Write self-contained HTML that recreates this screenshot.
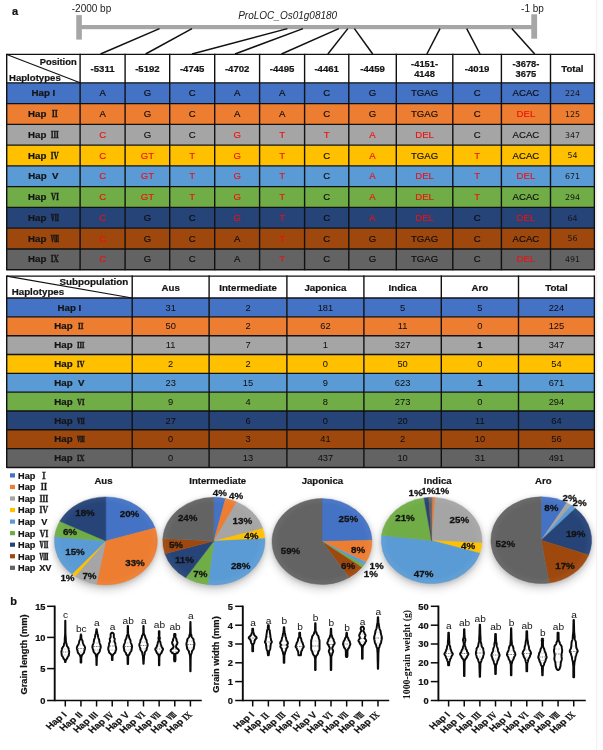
<!DOCTYPE html>
<html lang="en">
<head>
<meta charset="utf-8">
<title>ProLOC_Os01g08180 haplotype analysis</title>
<style>
html,body{margin:0;padding:0;background:#fff;}
body{width:603px;height:750px;overflow:hidden;font-family:"Liberation Sans", "Noto Serif CJK SC", "IPAGothic", sans-serif;}
svg{display:block;will-change:transform;}
text[font-weight=bold]{stroke:#151515;stroke-width:0.22px;}
.rn{font-family:"Noto Serif CJK SC","IPAGothic",serif;stroke:#151515;stroke-width:0.3px;font-size:0.9em;}
</style>
</head>
<body>
<svg width="603" height="750" viewBox="0 0 603 750" font-family='"Liberation Sans", "Noto Serif CJK SC", "IPAGothic", sans-serif'>
<g id="gene">
<text x="15.1" y="14.6" font-size="11" font-weight="bold" text-anchor="middle" fill="#111">a</text>
<text x="91.5" y="11.6" font-size="10" font-weight="normal" text-anchor="middle" fill="#222">-2000 bp</text>
<text x="532.5" y="11.6" font-size="10" font-weight="normal" text-anchor="middle" fill="#222">-1 bp</text>
<text x="287.7" y="19" font-size="10" font-weight="normal" text-anchor="middle" fill="#222" font-style="italic">ProLOC_Os01g08180</text>
<rect x="76.25" y="15.1" width="5.6" height="24.5" fill="#a6a6a6"/>
<rect x="531.3" y="14.3" width="5.8" height="24.4" fill="#a6a6a6"/>
<rect x="79" y="25" width="455" height="4.2" fill="#a6a6a6"/>
<line x1="159.5" y1="28.6" x2="100.5" y2="54" stroke="#111" stroke-width="1.5" stroke-linecap="butt"/>
<line x1="192" y1="28.6" x2="145.6" y2="54" stroke="#111" stroke-width="1.5" stroke-linecap="butt"/>
<line x1="287.4" y1="28.6" x2="192" y2="54" stroke="#111" stroke-width="1.5" stroke-linecap="butt"/>
<line x1="303" y1="28.6" x2="235" y2="54" stroke="#111" stroke-width="1.5" stroke-linecap="butt"/>
<line x1="338.8" y1="28.6" x2="281.5" y2="54" stroke="#111" stroke-width="1.5" stroke-linecap="butt"/>
<line x1="347.8" y1="28.6" x2="327.9" y2="54" stroke="#111" stroke-width="1.5" stroke-linecap="butt"/>
<line x1="354.4" y1="28.6" x2="372.7" y2="54" stroke="#111" stroke-width="1.5" stroke-linecap="butt"/>
<line x1="440" y1="28.6" x2="426.9" y2="54" stroke="#111" stroke-width="1.5" stroke-linecap="butt"/>
<line x1="466.7" y1="28.6" x2="480" y2="54" stroke="#111" stroke-width="1.5" stroke-linecap="butt"/>
<line x1="511.8" y1="28.6" x2="534.7" y2="54" stroke="#111" stroke-width="1.5" stroke-linecap="butt"/>
</g>
<g id="table1">
<rect x="6.7" y="54.4" width="587.7" height="28.45" fill="#ffffff"/>
<rect x="6.7" y="82.85" width="587.7" height="20.76" fill="#4472C4"/>
<rect x="6.7" y="103.61" width="587.7" height="20.76" fill="#ED7D31"/>
<rect x="6.7" y="124.37" width="587.7" height="20.76" fill="#A5A5A5"/>
<rect x="6.7" y="145.13" width="587.7" height="20.76" fill="#FFC000"/>
<rect x="6.7" y="165.89" width="587.7" height="20.76" fill="#5B9BD5"/>
<rect x="6.7" y="186.65" width="587.7" height="20.76" fill="#70AD47"/>
<rect x="6.7" y="207.41" width="587.7" height="20.76" fill="#264478"/>
<rect x="6.7" y="228.17" width="587.7" height="20.76" fill="#9E480E"/>
<rect x="6.7" y="248.93" width="587.7" height="20.76" fill="#636363"/>
<line x1="6.7" y1="53.8" x2="6.7" y2="270.29" stroke="#111" stroke-width="1.4"/>
<line x1="80.1" y1="53.8" x2="80.1" y2="270.29" stroke="#111" stroke-width="1.4"/>
<line x1="125.1" y1="53.8" x2="125.1" y2="270.29" stroke="#111" stroke-width="1.4"/>
<line x1="169.7" y1="53.8" x2="169.7" y2="270.29" stroke="#111" stroke-width="1.4"/>
<line x1="214.7" y1="53.8" x2="214.7" y2="270.29" stroke="#111" stroke-width="1.4"/>
<line x1="259.6" y1="53.8" x2="259.6" y2="270.29" stroke="#111" stroke-width="1.4"/>
<line x1="304.6" y1="53.8" x2="304.6" y2="270.29" stroke="#111" stroke-width="1.4"/>
<line x1="348.8" y1="53.8" x2="348.8" y2="270.29" stroke="#111" stroke-width="1.4"/>
<line x1="396.3" y1="53.8" x2="396.3" y2="270.29" stroke="#111" stroke-width="1.4"/>
<line x1="452.8" y1="53.8" x2="452.8" y2="270.29" stroke="#111" stroke-width="1.4"/>
<line x1="501.4" y1="53.8" x2="501.4" y2="270.29" stroke="#111" stroke-width="1.4"/>
<line x1="550.5" y1="53.8" x2="550.5" y2="270.29" stroke="#111" stroke-width="1.4"/>
<line x1="594.4" y1="53.8" x2="594.4" y2="270.29" stroke="#111" stroke-width="1.4"/>
<line x1="6.7" y1="54.4" x2="594.4" y2="54.4" stroke="#111" stroke-width="1.4"/>
<line x1="6.7" y1="82.85" x2="594.4" y2="82.85" stroke="#111" stroke-width="1.4"/>
<line x1="6.7" y1="103.61" x2="594.4" y2="103.61" stroke="#111" stroke-width="1.4"/>
<line x1="6.7" y1="124.37" x2="594.4" y2="124.37" stroke="#111" stroke-width="1.4"/>
<line x1="6.7" y1="145.13" x2="594.4" y2="145.13" stroke="#111" stroke-width="1.4"/>
<line x1="6.7" y1="165.89" x2="594.4" y2="165.89" stroke="#111" stroke-width="1.4"/>
<line x1="6.7" y1="186.65" x2="594.4" y2="186.65" stroke="#111" stroke-width="1.4"/>
<line x1="6.7" y1="207.41" x2="594.4" y2="207.41" stroke="#111" stroke-width="1.4"/>
<line x1="6.7" y1="228.17" x2="594.4" y2="228.17" stroke="#111" stroke-width="1.4"/>
<line x1="6.7" y1="248.93" x2="594.4" y2="248.93" stroke="#111" stroke-width="1.4"/>
<line x1="6.7" y1="269.69" x2="594.4" y2="269.69" stroke="#111" stroke-width="1.4"/>
<line x1="6.7" y1="54.4" x2="80.1" y2="82.85" stroke="#111" stroke-width="1.1"/>
<text x="76.7" y="65" font-size="9.4" font-weight="bold" text-anchor="end" fill="#151515">Position</text>
<text x="9" y="80.8" font-size="9.6" font-weight="bold" text-anchor="start" fill="#151515">Haplotypes</text>
<text x="102.6" y="71.9" font-size="9.6" font-weight="bold" text-anchor="middle" fill="#151515">-5311</text>
<text x="147.4" y="71.9" font-size="9.6" font-weight="bold" text-anchor="middle" fill="#151515">-5192</text>
<text x="192.2" y="71.9" font-size="9.6" font-weight="bold" text-anchor="middle" fill="#151515">-4745</text>
<text x="237.15" y="71.9" font-size="9.6" font-weight="bold" text-anchor="middle" fill="#151515">-4702</text>
<text x="282.1" y="71.9" font-size="9.6" font-weight="bold" text-anchor="middle" fill="#151515">-4495</text>
<text x="326.7" y="71.9" font-size="9.6" font-weight="bold" text-anchor="middle" fill="#151515">-4461</text>
<text x="372.55" y="71.9" font-size="9.6" font-weight="bold" text-anchor="middle" fill="#151515">-4459</text>
<text x="424.55" y="67" font-size="9.3" font-weight="bold" text-anchor="middle" fill="#151515">-4151-</text>
<text x="424.55" y="77.2" font-size="9.3" font-weight="bold" text-anchor="middle" fill="#151515">4148</text>
<text x="477.1" y="71.9" font-size="9.6" font-weight="bold" text-anchor="middle" fill="#151515">-4019</text>
<text x="525.95" y="67" font-size="9.3" font-weight="bold" text-anchor="middle" fill="#151515">-3678-</text>
<text x="525.95" y="77.2" font-size="9.3" font-weight="bold" text-anchor="middle" fill="#151515">3675</text>
<text x="572.45" y="71.9" font-size="9.6" font-weight="bold" text-anchor="middle" fill="#151515">Total</text>
<text x="43.4" y="96.23" font-size="9.7" font-weight="bold" text-anchor="middle" fill="#151515" stroke="#151515" stroke-width="0.15" xml:space="preserve">Hap I</text>
<text x="102.6" y="96.23" font-size="9.6" font-weight="normal" text-anchor="middle" fill="#0c0c0c" stroke="#0c0c0c" stroke-width="0.15">A</text>
<text x="147.4" y="96.23" font-size="9.6" font-weight="normal" text-anchor="middle" fill="#0c0c0c" stroke="#0c0c0c" stroke-width="0.15">G</text>
<text x="192.2" y="96.23" font-size="9.6" font-weight="normal" text-anchor="middle" fill="#0c0c0c" stroke="#0c0c0c" stroke-width="0.15">C</text>
<text x="237.15" y="96.23" font-size="9.6" font-weight="normal" text-anchor="middle" fill="#0c0c0c" stroke="#0c0c0c" stroke-width="0.15">A</text>
<text x="282.1" y="96.23" font-size="9.6" font-weight="normal" text-anchor="middle" fill="#0c0c0c" stroke="#0c0c0c" stroke-width="0.15">A</text>
<text x="326.7" y="96.23" font-size="9.6" font-weight="normal" text-anchor="middle" fill="#0c0c0c" stroke="#0c0c0c" stroke-width="0.15">C</text>
<text x="372.55" y="96.23" font-size="9.6" font-weight="normal" text-anchor="middle" fill="#0c0c0c" stroke="#0c0c0c" stroke-width="0.15">G</text>
<text x="424.55" y="96.23" font-size="9.6" font-weight="normal" text-anchor="middle" fill="#0c0c0c" stroke="#0c0c0c" stroke-width="0.15">TGAG</text>
<text x="477.1" y="96.23" font-size="9.6" font-weight="normal" text-anchor="middle" fill="#0c0c0c" stroke="#0c0c0c" stroke-width="0.15">C</text>
<text x="525.95" y="96.23" font-size="9.6" font-weight="normal" text-anchor="middle" fill="#0c0c0c" stroke="#0c0c0c" stroke-width="0.15">ACAC</text>
<text x="572.45" y="96.03" font-size="7.9" font-weight="normal" text-anchor="middle" fill="#151515" font-family="DejaVu Sans, sans-serif">224</text>
<text x="43.4" y="116.99" font-size="9.7" font-weight="bold" text-anchor="middle" fill="#151515" stroke="#151515" stroke-width="0.15">Hap <tspan class="rn" dx="1.6" style="font-size:8.15px">Ⅱ</tspan></text>
<text x="102.6" y="116.99" font-size="9.6" font-weight="normal" text-anchor="middle" fill="#0c0c0c" stroke="#0c0c0c" stroke-width="0.15">A</text>
<text x="147.4" y="116.99" font-size="9.6" font-weight="normal" text-anchor="middle" fill="#0c0c0c" stroke="#0c0c0c" stroke-width="0.15">G</text>
<text x="192.2" y="116.99" font-size="9.6" font-weight="normal" text-anchor="middle" fill="#0c0c0c" stroke="#0c0c0c" stroke-width="0.15">C</text>
<text x="237.15" y="116.99" font-size="9.6" font-weight="normal" text-anchor="middle" fill="#0c0c0c" stroke="#0c0c0c" stroke-width="0.15">A</text>
<text x="282.1" y="116.99" font-size="9.6" font-weight="normal" text-anchor="middle" fill="#0c0c0c" stroke="#0c0c0c" stroke-width="0.15">A</text>
<text x="326.7" y="116.99" font-size="9.6" font-weight="normal" text-anchor="middle" fill="#0c0c0c" stroke="#0c0c0c" stroke-width="0.15">C</text>
<text x="372.55" y="116.99" font-size="9.6" font-weight="normal" text-anchor="middle" fill="#0c0c0c" stroke="#0c0c0c" stroke-width="0.15">G</text>
<text x="424.55" y="116.99" font-size="9.6" font-weight="normal" text-anchor="middle" fill="#0c0c0c" stroke="#0c0c0c" stroke-width="0.15">TGAG</text>
<text x="477.1" y="116.99" font-size="9.6" font-weight="normal" text-anchor="middle" fill="#0c0c0c" stroke="#0c0c0c" stroke-width="0.15">C</text>
<text x="525.95" y="116.99" font-size="9.6" font-weight="normal" text-anchor="middle" fill="#f01010" stroke="#f01010" stroke-width="0.15">DEL</text>
<text x="572.45" y="116.79" font-size="7.9" font-weight="normal" text-anchor="middle" fill="#151515" font-family="DejaVu Sans, sans-serif">125</text>
<text x="43.4" y="137.75" font-size="9.7" font-weight="bold" text-anchor="middle" fill="#151515" stroke="#151515" stroke-width="0.15">Hap <tspan class="rn" dx="1.6" style="font-size:8.15px">Ⅲ</tspan></text>
<text x="102.6" y="137.75" font-size="9.6" font-weight="normal" text-anchor="middle" fill="#f01010" stroke="#f01010" stroke-width="0.15">C</text>
<text x="147.4" y="137.75" font-size="9.6" font-weight="normal" text-anchor="middle" fill="#0c0c0c" stroke="#0c0c0c" stroke-width="0.15">G</text>
<text x="192.2" y="137.75" font-size="9.6" font-weight="normal" text-anchor="middle" fill="#0c0c0c" stroke="#0c0c0c" stroke-width="0.15">C</text>
<text x="237.15" y="137.75" font-size="9.6" font-weight="normal" text-anchor="middle" fill="#f01010" stroke="#f01010" stroke-width="0.15">G</text>
<text x="282.1" y="137.75" font-size="9.6" font-weight="normal" text-anchor="middle" fill="#f01010" stroke="#f01010" stroke-width="0.15">T</text>
<text x="326.7" y="137.75" font-size="9.6" font-weight="normal" text-anchor="middle" fill="#f01010" stroke="#f01010" stroke-width="0.15">T</text>
<text x="372.55" y="137.75" font-size="9.6" font-weight="normal" text-anchor="middle" fill="#f01010" stroke="#f01010" stroke-width="0.15">A</text>
<text x="424.55" y="137.75" font-size="9.6" font-weight="normal" text-anchor="middle" fill="#f01010" stroke="#f01010" stroke-width="0.15">DEL</text>
<text x="477.1" y="137.75" font-size="9.6" font-weight="normal" text-anchor="middle" fill="#0c0c0c" stroke="#0c0c0c" stroke-width="0.15">C</text>
<text x="525.95" y="137.75" font-size="9.6" font-weight="normal" text-anchor="middle" fill="#0c0c0c" stroke="#0c0c0c" stroke-width="0.15">ACAC</text>
<text x="572.45" y="137.55" font-size="7.9" font-weight="normal" text-anchor="middle" fill="#151515" font-family="DejaVu Sans, sans-serif">347</text>
<text x="43.4" y="158.51" font-size="9.7" font-weight="bold" text-anchor="middle" fill="#151515" stroke="#151515" stroke-width="0.15">Hap <tspan class="rn" dx="1.6" style="font-size:8.15px">Ⅳ</tspan></text>
<text x="102.6" y="158.51" font-size="9.6" font-weight="normal" text-anchor="middle" fill="#f01010" stroke="#f01010" stroke-width="0.15">C</text>
<text x="147.4" y="158.51" font-size="9.6" font-weight="normal" text-anchor="middle" fill="#f01010" stroke="#f01010" stroke-width="0.15">GT</text>
<text x="192.2" y="158.51" font-size="9.6" font-weight="normal" text-anchor="middle" fill="#f01010" stroke="#f01010" stroke-width="0.15">T</text>
<text x="237.15" y="158.51" font-size="9.6" font-weight="normal" text-anchor="middle" fill="#f01010" stroke="#f01010" stroke-width="0.15">G</text>
<text x="282.1" y="158.51" font-size="9.6" font-weight="normal" text-anchor="middle" fill="#f01010" stroke="#f01010" stroke-width="0.15">T</text>
<text x="326.7" y="158.51" font-size="9.6" font-weight="normal" text-anchor="middle" fill="#0c0c0c" stroke="#0c0c0c" stroke-width="0.15">C</text>
<text x="372.55" y="158.51" font-size="9.6" font-weight="normal" text-anchor="middle" fill="#f01010" stroke="#f01010" stroke-width="0.15">A</text>
<text x="424.55" y="158.51" font-size="9.6" font-weight="normal" text-anchor="middle" fill="#0c0c0c" stroke="#0c0c0c" stroke-width="0.15">TGAG</text>
<text x="477.1" y="158.51" font-size="9.6" font-weight="normal" text-anchor="middle" fill="#f01010" stroke="#f01010" stroke-width="0.15">T</text>
<text x="525.95" y="158.51" font-size="9.6" font-weight="normal" text-anchor="middle" fill="#0c0c0c" stroke="#0c0c0c" stroke-width="0.15">ACAC</text>
<text x="572.45" y="158.31" font-size="7.9" font-weight="normal" text-anchor="middle" fill="#151515" font-family="DejaVu Sans, sans-serif">54</text>
<text x="43.4" y="179.27" font-size="9.7" font-weight="bold" text-anchor="middle" fill="#151515" stroke="#151515" stroke-width="0.15" xml:space="preserve">Hap  V</text>
<text x="102.6" y="179.27" font-size="9.6" font-weight="normal" text-anchor="middle" fill="#f01010" stroke="#f01010" stroke-width="0.15">C</text>
<text x="147.4" y="179.27" font-size="9.6" font-weight="normal" text-anchor="middle" fill="#f01010" stroke="#f01010" stroke-width="0.15">GT</text>
<text x="192.2" y="179.27" font-size="9.6" font-weight="normal" text-anchor="middle" fill="#f01010" stroke="#f01010" stroke-width="0.15">T</text>
<text x="237.15" y="179.27" font-size="9.6" font-weight="normal" text-anchor="middle" fill="#f01010" stroke="#f01010" stroke-width="0.15">G</text>
<text x="282.1" y="179.27" font-size="9.6" font-weight="normal" text-anchor="middle" fill="#f01010" stroke="#f01010" stroke-width="0.15">T</text>
<text x="326.7" y="179.27" font-size="9.6" font-weight="normal" text-anchor="middle" fill="#0c0c0c" stroke="#0c0c0c" stroke-width="0.15">C</text>
<text x="372.55" y="179.27" font-size="9.6" font-weight="normal" text-anchor="middle" fill="#f01010" stroke="#f01010" stroke-width="0.15">A</text>
<text x="424.55" y="179.27" font-size="9.6" font-weight="normal" text-anchor="middle" fill="#f01010" stroke="#f01010" stroke-width="0.15">DEL</text>
<text x="477.1" y="179.27" font-size="9.6" font-weight="normal" text-anchor="middle" fill="#f01010" stroke="#f01010" stroke-width="0.15">T</text>
<text x="525.95" y="179.27" font-size="9.6" font-weight="normal" text-anchor="middle" fill="#f01010" stroke="#f01010" stroke-width="0.15">DEL</text>
<text x="572.45" y="179.07" font-size="7.9" font-weight="normal" text-anchor="middle" fill="#151515" font-family="DejaVu Sans, sans-serif">671</text>
<text x="43.4" y="200.03" font-size="9.7" font-weight="bold" text-anchor="middle" fill="#151515" stroke="#151515" stroke-width="0.15">Hap <tspan class="rn" dx="1.6" style="font-size:8.15px">Ⅵ</tspan></text>
<text x="102.6" y="200.03" font-size="9.6" font-weight="normal" text-anchor="middle" fill="#f01010" stroke="#f01010" stroke-width="0.15">C</text>
<text x="147.4" y="200.03" font-size="9.6" font-weight="normal" text-anchor="middle" fill="#f01010" stroke="#f01010" stroke-width="0.15">GT</text>
<text x="192.2" y="200.03" font-size="9.6" font-weight="normal" text-anchor="middle" fill="#f01010" stroke="#f01010" stroke-width="0.15">T</text>
<text x="237.15" y="200.03" font-size="9.6" font-weight="normal" text-anchor="middle" fill="#f01010" stroke="#f01010" stroke-width="0.15">G</text>
<text x="282.1" y="200.03" font-size="9.6" font-weight="normal" text-anchor="middle" fill="#f01010" stroke="#f01010" stroke-width="0.15">T</text>
<text x="326.7" y="200.03" font-size="9.6" font-weight="normal" text-anchor="middle" fill="#0c0c0c" stroke="#0c0c0c" stroke-width="0.15">C</text>
<text x="372.55" y="200.03" font-size="9.6" font-weight="normal" text-anchor="middle" fill="#f01010" stroke="#f01010" stroke-width="0.15">A</text>
<text x="424.55" y="200.03" font-size="9.6" font-weight="normal" text-anchor="middle" fill="#f01010" stroke="#f01010" stroke-width="0.15">DEL</text>
<text x="477.1" y="200.03" font-size="9.6" font-weight="normal" text-anchor="middle" fill="#f01010" stroke="#f01010" stroke-width="0.15">T</text>
<text x="525.95" y="200.03" font-size="9.6" font-weight="normal" text-anchor="middle" fill="#0c0c0c" stroke="#0c0c0c" stroke-width="0.15">ACAC</text>
<text x="572.45" y="199.83" font-size="7.9" font-weight="normal" text-anchor="middle" fill="#151515" font-family="DejaVu Sans, sans-serif">294</text>
<text x="43.4" y="220.79" font-size="9.7" font-weight="bold" text-anchor="middle" fill="#151515" stroke="#151515" stroke-width="0.15">Hap <tspan class="rn" dx="1.6" style="font-size:8.15px">Ⅶ</tspan></text>
<text x="102.6" y="220.79" font-size="9.6" font-weight="normal" text-anchor="middle" fill="#f01010" stroke="#f01010" stroke-width="0.15">C</text>
<text x="147.4" y="220.79" font-size="9.6" font-weight="normal" text-anchor="middle" fill="#0c0c0c" stroke="#0c0c0c" stroke-width="0.15">G</text>
<text x="192.2" y="220.79" font-size="9.6" font-weight="normal" text-anchor="middle" fill="#0c0c0c" stroke="#0c0c0c" stroke-width="0.15">C</text>
<text x="237.15" y="220.79" font-size="9.6" font-weight="normal" text-anchor="middle" fill="#f01010" stroke="#f01010" stroke-width="0.15">G</text>
<text x="282.1" y="220.79" font-size="9.6" font-weight="normal" text-anchor="middle" fill="#f01010" stroke="#f01010" stroke-width="0.15">T</text>
<text x="326.7" y="220.79" font-size="9.6" font-weight="normal" text-anchor="middle" fill="#0c0c0c" stroke="#0c0c0c" stroke-width="0.15">C</text>
<text x="372.55" y="220.79" font-size="9.6" font-weight="normal" text-anchor="middle" fill="#f01010" stroke="#f01010" stroke-width="0.15">A</text>
<text x="424.55" y="220.79" font-size="9.6" font-weight="normal" text-anchor="middle" fill="#f01010" stroke="#f01010" stroke-width="0.15">DEL</text>
<text x="477.1" y="220.79" font-size="9.6" font-weight="normal" text-anchor="middle" fill="#0c0c0c" stroke="#0c0c0c" stroke-width="0.15">C</text>
<text x="525.95" y="220.79" font-size="9.6" font-weight="normal" text-anchor="middle" fill="#f01010" stroke="#f01010" stroke-width="0.15">DEL</text>
<text x="572.45" y="220.59" font-size="7.9" font-weight="normal" text-anchor="middle" fill="#151515" font-family="DejaVu Sans, sans-serif">64</text>
<text x="43.4" y="241.55" font-size="9.7" font-weight="bold" text-anchor="middle" fill="#151515" stroke="#151515" stroke-width="0.15">Hap <tspan class="rn" dx="1.6" style="font-size:8.15px">Ⅷ</tspan></text>
<text x="102.6" y="241.55" font-size="9.6" font-weight="normal" text-anchor="middle" fill="#f01010" stroke="#f01010" stroke-width="0.15">C</text>
<text x="147.4" y="241.55" font-size="9.6" font-weight="normal" text-anchor="middle" fill="#0c0c0c" stroke="#0c0c0c" stroke-width="0.15">G</text>
<text x="192.2" y="241.55" font-size="9.6" font-weight="normal" text-anchor="middle" fill="#0c0c0c" stroke="#0c0c0c" stroke-width="0.15">C</text>
<text x="237.15" y="241.55" font-size="9.6" font-weight="normal" text-anchor="middle" fill="#0c0c0c" stroke="#0c0c0c" stroke-width="0.15">A</text>
<text x="282.1" y="241.55" font-size="9.6" font-weight="normal" text-anchor="middle" fill="#f01010" stroke="#f01010" stroke-width="0.15">T</text>
<text x="326.7" y="241.55" font-size="9.6" font-weight="normal" text-anchor="middle" fill="#0c0c0c" stroke="#0c0c0c" stroke-width="0.15">C</text>
<text x="372.55" y="241.55" font-size="9.6" font-weight="normal" text-anchor="middle" fill="#0c0c0c" stroke="#0c0c0c" stroke-width="0.15">G</text>
<text x="424.55" y="241.55" font-size="9.6" font-weight="normal" text-anchor="middle" fill="#0c0c0c" stroke="#0c0c0c" stroke-width="0.15">TGAG</text>
<text x="477.1" y="241.55" font-size="9.6" font-weight="normal" text-anchor="middle" fill="#0c0c0c" stroke="#0c0c0c" stroke-width="0.15">C</text>
<text x="525.95" y="241.55" font-size="9.6" font-weight="normal" text-anchor="middle" fill="#0c0c0c" stroke="#0c0c0c" stroke-width="0.15">ACAC</text>
<text x="572.45" y="241.35" font-size="7.9" font-weight="normal" text-anchor="middle" fill="#151515" font-family="DejaVu Sans, sans-serif">56</text>
<text x="43.4" y="262.31" font-size="9.7" font-weight="bold" text-anchor="middle" fill="#151515" stroke="#151515" stroke-width="0.15">Hap <tspan class="rn" dx="1.6" style="font-size:8.15px">Ⅸ</tspan></text>
<text x="102.6" y="262.31" font-size="9.6" font-weight="normal" text-anchor="middle" fill="#f01010" stroke="#f01010" stroke-width="0.15">C</text>
<text x="147.4" y="262.31" font-size="9.6" font-weight="normal" text-anchor="middle" fill="#0c0c0c" stroke="#0c0c0c" stroke-width="0.15">G</text>
<text x="192.2" y="262.31" font-size="9.6" font-weight="normal" text-anchor="middle" fill="#0c0c0c" stroke="#0c0c0c" stroke-width="0.15">C</text>
<text x="237.15" y="262.31" font-size="9.6" font-weight="normal" text-anchor="middle" fill="#0c0c0c" stroke="#0c0c0c" stroke-width="0.15">A</text>
<text x="282.1" y="262.31" font-size="9.6" font-weight="normal" text-anchor="middle" fill="#f01010" stroke="#f01010" stroke-width="0.15">T</text>
<text x="326.7" y="262.31" font-size="9.6" font-weight="normal" text-anchor="middle" fill="#0c0c0c" stroke="#0c0c0c" stroke-width="0.15">C</text>
<text x="372.55" y="262.31" font-size="9.6" font-weight="normal" text-anchor="middle" fill="#0c0c0c" stroke="#0c0c0c" stroke-width="0.15">G</text>
<text x="424.55" y="262.31" font-size="9.6" font-weight="normal" text-anchor="middle" fill="#0c0c0c" stroke="#0c0c0c" stroke-width="0.15">TGAG</text>
<text x="477.1" y="262.31" font-size="9.6" font-weight="normal" text-anchor="middle" fill="#0c0c0c" stroke="#0c0c0c" stroke-width="0.15">C</text>
<text x="525.95" y="262.31" font-size="9.6" font-weight="normal" text-anchor="middle" fill="#f01010" stroke="#f01010" stroke-width="0.15">DEL</text>
<text x="572.45" y="262.11" font-size="7.9" font-weight="normal" text-anchor="middle" fill="#151515" font-family="DejaVu Sans, sans-serif">491</text>
</g>
<g id="table2">
<rect x="6.7" y="276.1" width="587.7" height="21.96" fill="#ffffff"/>
<rect x="6.7" y="298.06" width="587.7" height="18.82" fill="#4472C4"/>
<rect x="6.7" y="316.88" width="587.7" height="18.82" fill="#ED7D31"/>
<rect x="6.7" y="335.7" width="587.7" height="18.82" fill="#A5A5A5"/>
<rect x="6.7" y="354.52" width="587.7" height="18.82" fill="#FFC000"/>
<rect x="6.7" y="373.34" width="587.7" height="18.82" fill="#5B9BD5"/>
<rect x="6.7" y="392.16" width="587.7" height="18.82" fill="#70AD47"/>
<rect x="6.7" y="410.98" width="587.7" height="18.82" fill="#264478"/>
<rect x="6.7" y="429.8" width="587.7" height="18.82" fill="#9E480E"/>
<rect x="6.7" y="448.62" width="587.7" height="18.82" fill="#636363"/>
<line x1="6.7" y1="275.5" x2="6.7" y2="468.04" stroke="#111" stroke-width="1.4"/>
<line x1="132.2" y1="275.5" x2="132.2" y2="468.04" stroke="#111" stroke-width="1.4"/>
<line x1="209.1" y1="275.5" x2="209.1" y2="468.04" stroke="#111" stroke-width="1.4"/>
<line x1="286.9" y1="275.5" x2="286.9" y2="468.04" stroke="#111" stroke-width="1.4"/>
<line x1="363.9" y1="275.5" x2="363.9" y2="468.04" stroke="#111" stroke-width="1.4"/>
<line x1="441.3" y1="275.5" x2="441.3" y2="468.04" stroke="#111" stroke-width="1.4"/>
<line x1="518.5" y1="275.5" x2="518.5" y2="468.04" stroke="#111" stroke-width="1.4"/>
<line x1="594.4" y1="275.5" x2="594.4" y2="468.04" stroke="#111" stroke-width="1.4"/>
<line x1="6.7" y1="276.1" x2="594.4" y2="276.1" stroke="#111" stroke-width="1.4"/>
<line x1="6.7" y1="298.06" x2="594.4" y2="298.06" stroke="#111" stroke-width="1.4"/>
<line x1="6.7" y1="316.88" x2="594.4" y2="316.88" stroke="#111" stroke-width="1.4"/>
<line x1="6.7" y1="335.7" x2="594.4" y2="335.7" stroke="#111" stroke-width="1.4"/>
<line x1="6.7" y1="354.52" x2="594.4" y2="354.52" stroke="#111" stroke-width="1.4"/>
<line x1="6.7" y1="373.34" x2="594.4" y2="373.34" stroke="#111" stroke-width="1.4"/>
<line x1="6.7" y1="392.16" x2="594.4" y2="392.16" stroke="#111" stroke-width="1.4"/>
<line x1="6.7" y1="410.98" x2="594.4" y2="410.98" stroke="#111" stroke-width="1.4"/>
<line x1="6.7" y1="429.8" x2="594.4" y2="429.8" stroke="#111" stroke-width="1.4"/>
<line x1="6.7" y1="448.62" x2="594.4" y2="448.62" stroke="#111" stroke-width="1.4"/>
<line x1="6.7" y1="467.44" x2="594.4" y2="467.44" stroke="#111" stroke-width="1.4"/>
<line x1="6.7" y1="276.1" x2="132.2" y2="298.06" stroke="#111" stroke-width="1.1"/>
<text x="128.2" y="285.4" font-size="9.84" font-weight="bold" text-anchor="end" fill="#151515">Subpopulation</text>
<text x="11.7" y="294.6" font-size="9.74" font-weight="bold" text-anchor="start" fill="#151515">Haplotypes</text>
<text x="170.65" y="290.7" font-size="9.7" font-weight="bold" text-anchor="middle" fill="#151515">Aus</text>
<text x="248" y="290.7" font-size="9.7" font-weight="bold" text-anchor="middle" fill="#151515">Intermediate</text>
<text x="325.4" y="290.7" font-size="9.7" font-weight="bold" text-anchor="middle" fill="#151515">Japonica</text>
<text x="402.6" y="290.7" font-size="9.7" font-weight="bold" text-anchor="middle" fill="#151515">Indica</text>
<text x="479.9" y="290.7" font-size="9.7" font-weight="bold" text-anchor="middle" fill="#151515">Aro</text>
<text x="556.45" y="290.7" font-size="9.7" font-weight="bold" text-anchor="middle" fill="#151515">Total</text>
<text x="69.45" y="310.67" font-size="9.7" font-weight="bold" text-anchor="middle" fill="#151515" stroke="#151515" stroke-width="0.15" xml:space="preserve">Hap I</text>
<text x="170.65" y="310.67" font-size="9.3" font-weight="normal" text-anchor="middle" fill="#0c0c0c">31</text>
<text x="248" y="310.67" font-size="9.3" font-weight="normal" text-anchor="middle" fill="#0c0c0c">2</text>
<text x="325.4" y="310.67" font-size="9.3" font-weight="normal" text-anchor="middle" fill="#0c0c0c">181</text>
<text x="402.6" y="310.67" font-size="9.3" font-weight="normal" text-anchor="middle" fill="#0c0c0c">5</text>
<text x="479.9" y="310.67" font-size="9.3" font-weight="normal" text-anchor="middle" fill="#0c0c0c">5</text>
<text x="556.45" y="310.67" font-size="9.3" font-weight="normal" text-anchor="middle" fill="#0c0c0c">224</text>
<text x="69.45" y="329.49" font-size="9.7" font-weight="bold" text-anchor="middle" fill="#151515" stroke="#151515" stroke-width="0.15">Hap <tspan class="rn" dx="1.6" style="font-size:7.57px">Ⅱ</tspan></text>
<text x="170.65" y="329.49" font-size="9.3" font-weight="normal" text-anchor="middle" fill="#0c0c0c">50</text>
<text x="248" y="329.49" font-size="9.3" font-weight="normal" text-anchor="middle" fill="#0c0c0c">2</text>
<text x="325.4" y="329.49" font-size="9.3" font-weight="normal" text-anchor="middle" fill="#0c0c0c">62</text>
<text x="402.6" y="329.49" font-size="9.3" font-weight="normal" text-anchor="middle" fill="#0c0c0c">11</text>
<text x="479.9" y="329.49" font-size="9.3" font-weight="normal" text-anchor="middle" fill="#0c0c0c">0</text>
<text x="556.45" y="329.49" font-size="9.3" font-weight="normal" text-anchor="middle" fill="#0c0c0c">125</text>
<text x="69.45" y="348.31" font-size="9.7" font-weight="bold" text-anchor="middle" fill="#151515" stroke="#151515" stroke-width="0.15">Hap <tspan class="rn" dx="1.6" style="font-size:7.57px">Ⅲ</tspan></text>
<text x="170.65" y="348.31" font-size="9.3" font-weight="normal" text-anchor="middle" fill="#0c0c0c">11</text>
<text x="248" y="348.31" font-size="9.3" font-weight="normal" text-anchor="middle" fill="#0c0c0c">7</text>
<text x="325.4" y="348.31" font-size="9.3" font-weight="normal" text-anchor="middle" fill="#0c0c0c">1</text>
<text x="402.6" y="348.31" font-size="9.3" font-weight="normal" text-anchor="middle" fill="#0c0c0c">327</text>
<text x="479.9" y="348.31" font-size="9.3" font-weight="bold" text-anchor="middle" fill="#0c0c0c">1</text>
<text x="556.45" y="348.31" font-size="9.3" font-weight="normal" text-anchor="middle" fill="#0c0c0c">347</text>
<text x="69.45" y="367.13" font-size="9.7" font-weight="bold" text-anchor="middle" fill="#151515" stroke="#151515" stroke-width="0.15">Hap <tspan class="rn" dx="1.6" style="font-size:7.57px">Ⅳ</tspan></text>
<text x="170.65" y="367.13" font-size="9.3" font-weight="normal" text-anchor="middle" fill="#0c0c0c">2</text>
<text x="248" y="367.13" font-size="9.3" font-weight="normal" text-anchor="middle" fill="#0c0c0c">2</text>
<text x="325.4" y="367.13" font-size="9.3" font-weight="normal" text-anchor="middle" fill="#0c0c0c">0</text>
<text x="402.6" y="367.13" font-size="9.3" font-weight="normal" text-anchor="middle" fill="#0c0c0c">50</text>
<text x="479.9" y="367.13" font-size="9.3" font-weight="normal" text-anchor="middle" fill="#0c0c0c">0</text>
<text x="556.45" y="367.13" font-size="9.3" font-weight="normal" text-anchor="middle" fill="#0c0c0c">54</text>
<text x="69.45" y="385.95" font-size="9.7" font-weight="bold" text-anchor="middle" fill="#151515" stroke="#151515" stroke-width="0.15" xml:space="preserve">Hap  V</text>
<text x="170.65" y="385.95" font-size="9.3" font-weight="normal" text-anchor="middle" fill="#0c0c0c">23</text>
<text x="248" y="385.95" font-size="9.3" font-weight="normal" text-anchor="middle" fill="#0c0c0c">15</text>
<text x="325.4" y="385.95" font-size="9.3" font-weight="normal" text-anchor="middle" fill="#0c0c0c">9</text>
<text x="402.6" y="385.95" font-size="9.3" font-weight="normal" text-anchor="middle" fill="#0c0c0c">623</text>
<text x="479.9" y="385.95" font-size="9.3" font-weight="bold" text-anchor="middle" fill="#0c0c0c">1</text>
<text x="556.45" y="385.95" font-size="9.3" font-weight="normal" text-anchor="middle" fill="#0c0c0c">671</text>
<text x="69.45" y="404.77" font-size="9.7" font-weight="bold" text-anchor="middle" fill="#151515" stroke="#151515" stroke-width="0.15">Hap <tspan class="rn" dx="1.6" style="font-size:7.57px">Ⅵ</tspan></text>
<text x="170.65" y="404.77" font-size="9.3" font-weight="normal" text-anchor="middle" fill="#0c0c0c">9</text>
<text x="248" y="404.77" font-size="9.3" font-weight="normal" text-anchor="middle" fill="#0c0c0c">4</text>
<text x="325.4" y="404.77" font-size="9.3" font-weight="normal" text-anchor="middle" fill="#0c0c0c">8</text>
<text x="402.6" y="404.77" font-size="9.3" font-weight="normal" text-anchor="middle" fill="#0c0c0c">273</text>
<text x="479.9" y="404.77" font-size="9.3" font-weight="normal" text-anchor="middle" fill="#0c0c0c">0</text>
<text x="556.45" y="404.77" font-size="9.3" font-weight="normal" text-anchor="middle" fill="#0c0c0c">294</text>
<text x="69.45" y="423.59" font-size="9.7" font-weight="bold" text-anchor="middle" fill="#151515" stroke="#151515" stroke-width="0.15">Hap <tspan class="rn" dx="1.6" style="font-size:7.57px">Ⅶ</tspan></text>
<text x="170.65" y="423.59" font-size="9.3" font-weight="normal" text-anchor="middle" fill="#0c0c0c">27</text>
<text x="248" y="423.59" font-size="9.3" font-weight="normal" text-anchor="middle" fill="#0c0c0c">6</text>
<text x="325.4" y="423.59" font-size="9.3" font-weight="normal" text-anchor="middle" fill="#0c0c0c">0</text>
<text x="402.6" y="423.59" font-size="9.3" font-weight="normal" text-anchor="middle" fill="#0c0c0c">20</text>
<text x="479.9" y="423.59" font-size="9.3" font-weight="normal" text-anchor="middle" fill="#0c0c0c">11</text>
<text x="556.45" y="423.59" font-size="9.3" font-weight="normal" text-anchor="middle" fill="#0c0c0c">64</text>
<text x="69.45" y="442.41" font-size="9.7" font-weight="bold" text-anchor="middle" fill="#151515" stroke="#151515" stroke-width="0.15">Hap <tspan class="rn" dx="1.6" style="font-size:7.57px">Ⅷ</tspan></text>
<text x="170.65" y="442.41" font-size="9.3" font-weight="normal" text-anchor="middle" fill="#0c0c0c">0</text>
<text x="248" y="442.41" font-size="9.3" font-weight="normal" text-anchor="middle" fill="#0c0c0c">3</text>
<text x="325.4" y="442.41" font-size="9.3" font-weight="normal" text-anchor="middle" fill="#0c0c0c">41</text>
<text x="402.6" y="442.41" font-size="9.3" font-weight="normal" text-anchor="middle" fill="#0c0c0c">2</text>
<text x="479.9" y="442.41" font-size="9.3" font-weight="normal" text-anchor="middle" fill="#0c0c0c">10</text>
<text x="556.45" y="442.41" font-size="9.3" font-weight="normal" text-anchor="middle" fill="#0c0c0c">56</text>
<text x="69.45" y="461.23" font-size="9.7" font-weight="bold" text-anchor="middle" fill="#151515" stroke="#151515" stroke-width="0.15">Hap <tspan class="rn" dx="1.6" style="font-size:7.57px">Ⅸ</tspan></text>
<text x="170.65" y="461.23" font-size="9.3" font-weight="normal" text-anchor="middle" fill="#0c0c0c">0</text>
<text x="248" y="461.23" font-size="9.3" font-weight="normal" text-anchor="middle" fill="#0c0c0c">13</text>
<text x="325.4" y="461.23" font-size="9.3" font-weight="normal" text-anchor="middle" fill="#0c0c0c">437</text>
<text x="402.6" y="461.23" font-size="9.3" font-weight="normal" text-anchor="middle" fill="#0c0c0c">10</text>
<text x="479.9" y="461.23" font-size="9.3" font-weight="normal" text-anchor="middle" fill="#0c0c0c">31</text>
<text x="556.45" y="461.23" font-size="9.3" font-weight="normal" text-anchor="middle" fill="#0c0c0c">491</text>
</g>
<g id="legend">
<rect x="10" y="473.3" width="5" height="4.2" fill="#4472C4"/>
<text transform="translate(18 478.8) scale(1 0.97)" font-size="9.2" font-weight="bold" text-anchor="start" fill="#151515">Hap</text>
<text transform="translate(39.6 478.8) scale(1 0.97)" font-size="9.8" font-weight="bold" text-anchor="start" fill="#151515"><tspan class="rn">Ⅰ</tspan></text>
<rect x="10" y="484.85" width="5" height="4.2" fill="#ED7D31"/>
<text transform="translate(18 490.35) scale(1 0.97)" font-size="9.2" font-weight="bold" text-anchor="start" fill="#151515">Hap</text>
<text transform="translate(39.6 490.35) scale(1 0.97)" font-size="9.8" font-weight="bold" text-anchor="start" fill="#151515"><tspan class="rn">Ⅱ</tspan></text>
<rect x="10" y="496.4" width="5" height="4.2" fill="#A5A5A5"/>
<text transform="translate(18 501.9) scale(1 0.97)" font-size="9.2" font-weight="bold" text-anchor="start" fill="#151515">Hap</text>
<text transform="translate(39.6 501.9) scale(1 0.97)" font-size="9.8" font-weight="bold" text-anchor="start" fill="#151515"><tspan class="rn">Ⅲ</tspan></text>
<rect x="10" y="507.95" width="5" height="4.2" fill="#FFC000"/>
<text transform="translate(18 513.45) scale(1 0.97)" font-size="9.2" font-weight="bold" text-anchor="start" fill="#151515">Hap</text>
<text transform="translate(39.6 513.45) scale(1 0.97)" font-size="9.8" font-weight="bold" text-anchor="start" fill="#151515"><tspan class="rn">Ⅳ</tspan></text>
<rect x="10" y="519.5" width="5" height="4.2" fill="#5B9BD5"/>
<text transform="translate(18 525) scale(1 0.97)" font-size="9.2" font-weight="bold" text-anchor="start" fill="#151515">Hap</text>
<text transform="translate(41.2 525) scale(1 0.97)" font-size="9.2" font-weight="bold" text-anchor="start" fill="#151515">V</text>
<rect x="10" y="531.05" width="5" height="4.2" fill="#70AD47"/>
<text transform="translate(18 536.55) scale(1 0.97)" font-size="9.2" font-weight="bold" text-anchor="start" fill="#151515">Hap</text>
<text transform="translate(39.6 536.55) scale(1 0.97)" font-size="9.8" font-weight="bold" text-anchor="start" fill="#151515"><tspan class="rn">Ⅵ</tspan></text>
<rect x="10" y="542.6" width="5" height="4.2" fill="#264478"/>
<text transform="translate(18 548.1) scale(1 0.97)" font-size="9.2" font-weight="bold" text-anchor="start" fill="#151515">Hap</text>
<text transform="translate(39.6 548.1) scale(1 0.97)" font-size="9.8" font-weight="bold" text-anchor="start" fill="#151515"><tspan class="rn">Ⅶ</tspan></text>
<rect x="10" y="554.15" width="5" height="4.2" fill="#9E480E"/>
<text transform="translate(18 559.65) scale(1 0.97)" font-size="9.2" font-weight="bold" text-anchor="start" fill="#151515">Hap</text>
<text transform="translate(39.6 559.65) scale(1 0.97)" font-size="9.8" font-weight="bold" text-anchor="start" fill="#151515"><tspan class="rn">Ⅷ</tspan></text>
<rect x="10" y="565.7" width="5" height="4.2" fill="#636363"/>
<text transform="translate(18 571.2) scale(1 0.97)" font-size="9.2" font-weight="bold" text-anchor="start" fill="#151515">Hap</text>
<text transform="translate(39.2 571.2) scale(1 0.97)" font-size="9.2" font-weight="bold" text-anchor="start" fill="#151515">XV</text>
</g>
<defs><radialGradient id="pg" cx="50%" cy="50%" r="50%"><stop offset="0" stop-color="#fff" stop-opacity="0"/><stop offset="0.86" stop-color="#fff" stop-opacity="0"/><stop offset="0.96" stop-color="#fff" stop-opacity="0.04"/><stop offset="1" stop-color="#fff" stop-opacity="0.03"/></radialGradient><filter id="blur" x="-20%" y="-20%" width="140%" height="140%"><feGaussianBlur stdDeviation="2"/></filter><filter id="blur2" x="-30%" y="-30%" width="160%" height="160%"><feGaussianBlur stdDeviation="5"/></filter></defs>
<g id="pies">
<ellipse cx="105.9" cy="544.9" rx="52" ry="44.5" fill="#000" opacity="0.2" filter="url(#blur2)"/>
<ellipse cx="105.9" cy="542.1" rx="52" ry="44.5" fill="#000" opacity="0.12" filter="url(#blur)"/>
<path d="M105.9 540.9L105.9 496.9A51.5 44 0 0 1 155.13 527.99Z" fill="#4472C4" stroke="#4472C4" stroke-width="0.4"/>
<path d="M105.9 540.9L155.13 527.99A51.5 44 0 0 1 96.44 584.15Z" fill="#ED7D31" stroke="#ED7D31" stroke-width="0.4"/>
<path d="M105.9 540.9L96.44 584.15A51.5 44 0 0 1 75.29 576.28Z" fill="#A5A5A5" stroke="#A5A5A5" stroke-width="0.4"/>
<path d="M105.9 540.9L75.29 576.28A51.5 44 0 0 1 71.99 574.02Z" fill="#FFC000" stroke="#FFC000" stroke-width="0.4"/>
<path d="M105.9 540.9L71.99 574.02A51.5 44 0 0 1 54.62 536.84Z" fill="#5B9BD5" stroke="#5B9BD5" stroke-width="0.4"/>
<path d="M105.9 540.9L54.62 536.84A51.5 44 0 0 1 59.8 521.29Z" fill="#70AD47" stroke="#70AD47" stroke-width="0.4"/>
<path d="M105.9 540.9L59.8 521.29A51.5 44 0 0 1 105.9 496.9Z" fill="#264478" stroke="#264478" stroke-width="0.4"/>
<ellipse cx="105.9" cy="540.9" rx="51.5" ry="44" fill="url(#pg)"/>
<text transform="translate(103.5 483.8) scale(1 0.97)" font-size="9.6" font-weight="bold" text-anchor="middle" fill="#151515">Aus</text>
<text transform="translate(129.5 517.2) scale(1 0.95)" font-size="9.8" font-weight="bold" text-anchor="middle" fill="#111" style="stroke-width:0.3px">20%</text>
<text transform="translate(135 566.2) scale(1 0.95)" font-size="9.8" font-weight="bold" text-anchor="middle" fill="#111" style="stroke-width:0.3px">33%</text>
<text transform="translate(89.5 578.7) scale(1 0.95)" font-size="9.8" font-weight="bold" text-anchor="middle" fill="#111" style="stroke-width:0.3px">7%</text>
<text transform="translate(67.5 580.7) scale(1 0.95)" font-size="9.8" font-weight="bold" text-anchor="middle" fill="#111" style="stroke-width:0.3px">1%</text>
<text transform="translate(75 555.2) scale(1 0.95)" font-size="9.8" font-weight="bold" text-anchor="middle" fill="#111" style="stroke-width:0.3px">15%</text>
<text transform="translate(70 535.2) scale(1 0.95)" font-size="9.8" font-weight="bold" text-anchor="middle" fill="#111" style="stroke-width:0.3px">6%</text>
<text transform="translate(85 515.7) scale(1 0.95)" font-size="9.8" font-weight="bold" text-anchor="middle" fill="#111" style="stroke-width:0.3px">18%</text>
<ellipse cx="213.8" cy="545.1" rx="51.6" ry="44.3" fill="#000" opacity="0.2" filter="url(#blur2)"/>
<ellipse cx="213.8" cy="542.3" rx="51.6" ry="44.3" fill="#000" opacity="0.12" filter="url(#blur)"/>
<path d="M213.8 541.1L213.8 497.3A51.1 43.8 0 0 1 225.58 498.48Z" fill="#4472C4" stroke="#4472C4" stroke-width="0.4"/>
<path d="M213.8 541.1L225.58 498.48A51.1 43.8 0 0 1 236.73 501.96Z" fill="#ED7D31" stroke="#ED7D31" stroke-width="0.4"/>
<path d="M213.8 541.1L236.73 501.96A51.1 43.8 0 0 1 262.75 528.54Z" fill="#A5A5A5" stroke="#A5A5A5" stroke-width="0.4"/>
<path d="M213.8 541.1L262.75 528.54A51.1 43.8 0 0 1 264.81 538.55Z" fill="#FFC000" stroke="#FFC000" stroke-width="0.4"/>
<path d="M213.8 541.1L264.81 538.55A51.1 43.8 0 0 1 207.87 584.6Z" fill="#5B9BD5" stroke="#5B9BD5" stroke-width="0.4"/>
<path d="M213.8 541.1L207.87 584.6A51.1 43.8 0 0 1 185.72 577.69Z" fill="#70AD47" stroke="#70AD47" stroke-width="0.4"/>
<path d="M213.8 541.1L185.72 577.69A51.1 43.8 0 0 1 164.85 553.66Z" fill="#264478" stroke="#264478" stroke-width="0.4"/>
<path d="M213.8 541.1L164.85 553.66A51.1 43.8 0 0 1 162.79 538.55Z" fill="#9E480E" stroke="#9E480E" stroke-width="0.4"/>
<path d="M213.8 541.1L162.79 538.55A51.1 43.8 0 0 1 213.8 497.3Z" fill="#636363" stroke="#636363" stroke-width="0.4"/>
<ellipse cx="213.8" cy="541.1" rx="51.1" ry="43.8" fill="url(#pg)"/>
<text transform="translate(217.7 483.8) scale(1 0.97)" font-size="9.6" font-weight="bold" text-anchor="middle" fill="#151515">Intermediate</text>
<text transform="translate(219.8 496.1) scale(1 0.95)" font-size="9.8" font-weight="bold" text-anchor="middle" fill="#111" style="stroke-width:0.3px">4%</text>
<text transform="translate(236.2 499.2) scale(1 0.95)" font-size="9.8" font-weight="bold" text-anchor="middle" fill="#111" style="stroke-width:0.3px">4%</text>
<text transform="translate(242.3 524.2) scale(1 0.95)" font-size="9.8" font-weight="bold" text-anchor="middle" fill="#111" style="stroke-width:0.3px">13%</text>
<text transform="translate(251.4 538.5) scale(1 0.95)" font-size="9.8" font-weight="bold" text-anchor="middle" fill="#111" style="stroke-width:0.3px">4%</text>
<text transform="translate(240.7 568.5) scale(1 0.95)" font-size="9.8" font-weight="bold" text-anchor="middle" fill="#111" style="stroke-width:0.3px">28%</text>
<text transform="translate(200.4 577) scale(1 0.95)" font-size="9.8" font-weight="bold" text-anchor="middle" fill="#111" style="stroke-width:0.3px">7%</text>
<text transform="translate(184.5 562.9) scale(1 0.95)" font-size="9.8" font-weight="bold" text-anchor="middle" fill="#111" style="stroke-width:0.3px">11%</text>
<text transform="translate(176 547.8) scale(1 0.95)" font-size="9.8" font-weight="bold" text-anchor="middle" fill="#111" style="stroke-width:0.3px">5%</text>
<text transform="translate(187.7 520.5) scale(1 0.95)" font-size="9.8" font-weight="bold" text-anchor="middle" fill="#111" style="stroke-width:0.3px">24%</text>
<ellipse cx="322" cy="545.5" rx="50.5" ry="43.4" fill="#000" opacity="0.2" filter="url(#blur2)"/>
<ellipse cx="322" cy="542.7" rx="50.5" ry="43.4" fill="#000" opacity="0.12" filter="url(#blur)"/>
<path d="M322 541.5L322 498.6A50 42.9 0 0 1 371.97 540.13Z" fill="#4472C4" stroke="#4472C4" stroke-width="0.4"/>
<path d="M322 541.5L371.97 540.13A50 42.9 0 0 1 365.99 561.89Z" fill="#ED7D31" stroke="#ED7D31" stroke-width="0.4"/>
<path d="M322 541.5L365.99 561.89A50 42.9 0 0 1 365.79 562.21Z" fill="#A5A5A5" stroke="#A5A5A5" stroke-width="0.4"/>
<path d="M322 541.5L365.79 562.21A50 42.9 0 0 1 363.82 565.02Z" fill="#5B9BD5" stroke="#5B9BD5" stroke-width="0.4"/>
<path d="M322 541.5L363.82 565.02A50 42.9 0 0 1 361.86 567.4Z" fill="#70AD47" stroke="#70AD47" stroke-width="0.4"/>
<path d="M322 541.5L361.86 567.4A50 42.9 0 0 1 349.15 577.53Z" fill="#9E480E" stroke="#9E480E" stroke-width="0.4"/>
<path d="M322 541.5L349.15 577.53A50 42.9 0 1 1 322 498.6Z" fill="#636363" stroke="#636363" stroke-width="0.4"/>
<ellipse cx="322" cy="541.5" rx="50" ry="42.9" fill="url(#pg)"/>
<text transform="translate(322.4 483.8) scale(1 0.97)" font-size="9.6" font-weight="bold" text-anchor="middle" fill="#151515">Japonica</text>
<text transform="translate(348.4 522.1) scale(1 0.95)" font-size="9.8" font-weight="bold" text-anchor="middle" fill="#111" style="stroke-width:0.3px">25%</text>
<text transform="translate(358.2 552.6) scale(1 0.95)" font-size="9.8" font-weight="bold" text-anchor="middle" fill="#111" style="stroke-width:0.3px">8%</text>
<text transform="translate(348.1 568.5) scale(1 0.95)" font-size="9.8" font-weight="bold" text-anchor="middle" fill="#111" style="stroke-width:0.3px">6%</text>
<text transform="translate(376.7 569) scale(1 0.95)" font-size="9.8" font-weight="bold" text-anchor="middle" fill="#111" style="stroke-width:0.3px">1%</text>
<text transform="translate(370.9 577) scale(1 0.95)" font-size="9.8" font-weight="bold" text-anchor="middle" fill="#111" style="stroke-width:0.3px">1%</text>
<text transform="translate(290.5 553.6) scale(1 0.95)" font-size="9.8" font-weight="bold" text-anchor="middle" fill="#111" style="stroke-width:0.3px">59%</text>
<ellipse cx="431.6" cy="544.5" rx="50.9" ry="43.6" fill="#000" opacity="0.2" filter="url(#blur2)"/>
<ellipse cx="431.6" cy="541.7" rx="50.9" ry="43.6" fill="#000" opacity="0.12" filter="url(#blur)"/>
<path d="M431.6 540.5L431.6 497.4A50.4 43.1 0 0 1 432.8 497.41Z" fill="#4472C4" stroke="#4472C4" stroke-width="0.4"/>
<path d="M431.6 540.5L432.8 497.41A50.4 43.1 0 0 1 435.43 497.52Z" fill="#ED7D31" stroke="#ED7D31" stroke-width="0.4"/>
<path d="M431.6 540.5L435.43 497.52A50.4 43.1 0 0 1 481.91 543.11Z" fill="#A5A5A5" stroke="#A5A5A5" stroke-width="0.4"/>
<path d="M431.6 540.5L481.91 543.11A50.4 43.1 0 0 1 479.77 553.17Z" fill="#FFC000" stroke="#FFC000" stroke-width="0.4"/>
<path d="M431.6 540.5L479.77 553.17A50.4 43.1 0 0 1 381.56 535.34Z" fill="#5B9BD5" stroke="#5B9BD5" stroke-width="0.4"/>
<path d="M431.6 540.5L381.56 535.34A50.4 43.1 0 0 1 423.96 497.9Z" fill="#70AD47" stroke="#70AD47" stroke-width="0.4"/>
<path d="M431.6 540.5L423.96 497.9A50.4 43.1 0 0 1 428.72 497.47Z" fill="#264478" stroke="#264478" stroke-width="0.4"/>
<path d="M431.6 540.5L428.72 497.47A50.4 43.1 0 0 1 429.2 497.45Z" fill="#9E480E" stroke="#9E480E" stroke-width="0.4"/>
<path d="M431.6 540.5L429.2 497.45A50.4 43.1 0 0 1 431.6 497.4Z" fill="#636363" stroke="#636363" stroke-width="0.4"/>
<ellipse cx="431.6" cy="540.5" rx="50.4" ry="43.1" fill="url(#pg)"/>
<text transform="translate(437.7 483.8) scale(1 0.97)" font-size="9.6" font-weight="bold" text-anchor="middle" fill="#151515">Indica</text>
<text transform="translate(415.6 496.1) scale(1 0.95)" font-size="9.8" font-weight="bold" text-anchor="middle" fill="#111" style="stroke-width:0.3px">1%</text>
<text transform="translate(428.4 494.2) scale(1 0.95)" font-size="9.8" font-weight="bold" text-anchor="middle" fill="#111" style="stroke-width:0.3px">1%</text>
<text transform="translate(442.2 494.2) scale(1 0.95)" font-size="9.8" font-weight="bold" text-anchor="middle" fill="#111" style="stroke-width:0.3px">1%</text>
<text transform="translate(459.4 523.4) scale(1 0.95)" font-size="9.8" font-weight="bold" text-anchor="middle" fill="#111" style="stroke-width:0.3px">25%</text>
<text transform="translate(468.2 549.1) scale(1 0.95)" font-size="9.8" font-weight="bold" text-anchor="middle" fill="#111" style="stroke-width:0.3px">4%</text>
<text transform="translate(423.6 577) scale(1 0.95)" font-size="9.8" font-weight="bold" text-anchor="middle" fill="#111" style="stroke-width:0.3px">47%</text>
<text transform="translate(405 521.2) scale(1 0.95)" font-size="9.8" font-weight="bold" text-anchor="middle" fill="#111" style="stroke-width:0.3px">21%</text>
<ellipse cx="541.2" cy="544.2" rx="50.9" ry="43.9" fill="#000" opacity="0.2" filter="url(#blur2)"/>
<ellipse cx="541.2" cy="541.4" rx="50.9" ry="43.9" fill="#000" opacity="0.12" filter="url(#blur)"/>
<path d="M541.2 540.2L541.2 496.8A50.4 43.4 0 0 1 566.79 502.81Z" fill="#4472C4" stroke="#4472C4" stroke-width="0.4"/>
<path d="M541.2 540.2L566.79 502.81A50.4 43.4 0 0 1 571.26 505.36Z" fill="#A5A5A5" stroke="#A5A5A5" stroke-width="0.4"/>
<path d="M541.2 540.2L571.26 505.36A50.4 43.4 0 0 1 575.39 508.31Z" fill="#5B9BD5" stroke="#5B9BD5" stroke-width="0.4"/>
<path d="M541.2 540.2L575.39 508.31A50.4 43.4 0 0 1 588.61 554.92Z" fill="#264478" stroke="#264478" stroke-width="0.4"/>
<path d="M541.2 540.2L588.61 554.92A50.4 43.4 0 0 1 549.22 583.05Z" fill="#9E480E" stroke="#9E480E" stroke-width="0.4"/>
<path d="M541.2 540.2L549.22 583.05A50.4 43.4 0 1 1 541.2 496.8Z" fill="#636363" stroke="#636363" stroke-width="0.4"/>
<ellipse cx="541.2" cy="540.2" rx="50.4" ry="43.4" fill="url(#pg)"/>
<text transform="translate(543.3 483.8) scale(1 0.97)" font-size="9.6" font-weight="bold" text-anchor="middle" fill="#151515">Aro</text>
<text transform="translate(551.3 510.7) scale(1 0.95)" font-size="9.8" font-weight="bold" text-anchor="middle" fill="#111" style="stroke-width:0.3px">8%</text>
<text transform="translate(569.6 500.6) scale(1 0.95)" font-size="9.8" font-weight="bold" text-anchor="middle" fill="#111" style="stroke-width:0.3px">2%</text>
<text transform="translate(579.6 506.1) scale(1 0.95)" font-size="9.8" font-weight="bold" text-anchor="middle" fill="#111" style="stroke-width:0.3px">2%</text>
<text transform="translate(575.7 537.2) scale(1 0.95)" font-size="9.8" font-weight="bold" text-anchor="middle" fill="#111" style="stroke-width:0.3px">19%</text>
<text transform="translate(565 569) scale(1 0.95)" font-size="9.8" font-weight="bold" text-anchor="middle" fill="#111" style="stroke-width:0.3px">17%</text>
<text transform="translate(505.4 546.5) scale(1 0.95)" font-size="9.8" font-weight="bold" text-anchor="middle" fill="#111" style="stroke-width:0.3px">52%</text>
</g>
<g id="violins">
<text x="13.5" y="604.6" font-size="11" font-weight="bold" text-anchor="middle" fill="#111">b</text>
<line x1="54.7" y1="605.6" x2="54.7" y2="701.2" stroke="#0a0a0a" stroke-width="1.9"/>
<line x1="47.1" y1="700.5" x2="201.8" y2="700.5" stroke="#0a0a0a" stroke-width="1.7"/>
<line x1="47.1" y1="606.3" x2="54.7" y2="606.3" stroke="#0a0a0a" stroke-width="1.5"/>
<text x="45.5" y="609.6" font-size="9.3" font-weight="bold" text-anchor="end" fill="#111">15</text>
<line x1="47.1" y1="637.4" x2="54.7" y2="637.4" stroke="#0a0a0a" stroke-width="1.5"/>
<text x="45.5" y="640.7" font-size="9.3" font-weight="bold" text-anchor="end" fill="#111">10</text>
<line x1="47.1" y1="668.6" x2="54.7" y2="668.6" stroke="#0a0a0a" stroke-width="1.5"/>
<text x="45.5" y="671.9" font-size="9.3" font-weight="bold" text-anchor="end" fill="#111">5</text>
<text x="45.5" y="703.8" font-size="9.3" font-weight="bold" text-anchor="end" fill="#111">0</text>
<line x1="65.3" y1="700.5" x2="65.3" y2="706.5" stroke="#0a0a0a" stroke-width="1.5"/>
<line x1="80.94" y1="700.5" x2="80.94" y2="706.5" stroke="#0a0a0a" stroke-width="1.5"/>
<line x1="96.58" y1="700.5" x2="96.58" y2="706.5" stroke="#0a0a0a" stroke-width="1.5"/>
<line x1="112.22" y1="700.5" x2="112.22" y2="706.5" stroke="#0a0a0a" stroke-width="1.5"/>
<line x1="127.86" y1="700.5" x2="127.86" y2="706.5" stroke="#0a0a0a" stroke-width="1.5"/>
<line x1="143.5" y1="700.5" x2="143.5" y2="706.5" stroke="#0a0a0a" stroke-width="1.5"/>
<line x1="159.14" y1="700.5" x2="159.14" y2="706.5" stroke="#0a0a0a" stroke-width="1.5"/>
<line x1="174.78" y1="700.5" x2="174.78" y2="706.5" stroke="#0a0a0a" stroke-width="1.5"/>
<line x1="190.42" y1="700.5" x2="190.42" y2="706.5" stroke="#0a0a0a" stroke-width="1.5"/>
<text transform="translate(26.5 654.5) rotate(-90)" font-size="9.3" font-weight="bold" text-anchor="middle" fill="#111" font-family='"Liberation Sans", "Noto Serif CJK SC", "IPAGothic", sans-serif'>Grain length (mm)</text>
<text transform="translate(67.5 715.3) scale(1 0.83) rotate(-45)" font-size="10.2" font-weight="bold" text-anchor="end" fill="#111" stroke="#111" stroke-width="0.2" xml:space="preserve">Hap I</text>
<text transform="translate(83.14 715.3) scale(1 0.83) rotate(-45)" font-size="10.2" font-weight="bold" text-anchor="end" fill="#111" stroke="#111" stroke-width="0.2" xml:space="preserve">Hap II</text>
<text transform="translate(98.78 715.3) scale(1 0.83) rotate(-45)" font-size="10.2" font-weight="bold" text-anchor="end" fill="#111" stroke="#111" stroke-width="0.2" xml:space="preserve">Hap III</text>
<text transform="translate(114.42 715.3) scale(1 0.83) rotate(-45)" font-size="10.2" font-weight="bold" text-anchor="end" fill="#111" stroke="#111" stroke-width="0.2" xml:space="preserve">Hap <tspan class="rn">Ⅳ</tspan></text>
<text transform="translate(130.06 715.3) scale(1 0.83) rotate(-45)" font-size="10.2" font-weight="bold" text-anchor="end" fill="#111" stroke="#111" stroke-width="0.2" xml:space="preserve">Hap V</text>
<text transform="translate(145.7 715.3) scale(1 0.83) rotate(-45)" font-size="10.2" font-weight="bold" text-anchor="end" fill="#111" stroke="#111" stroke-width="0.2" xml:space="preserve">Hap <tspan class="rn">Ⅵ</tspan></text>
<text transform="translate(161.34 715.3) scale(1 0.83) rotate(-45)" font-size="10.2" font-weight="bold" text-anchor="end" fill="#111" stroke="#111" stroke-width="0.2" xml:space="preserve">Hap <tspan class="rn">Ⅶ</tspan></text>
<text transform="translate(176.98 715.3) scale(1 0.83) rotate(-45)" font-size="10.2" font-weight="bold" text-anchor="end" fill="#111" stroke="#111" stroke-width="0.2" xml:space="preserve">Hap <tspan class="rn">Ⅷ</tspan></text>
<text transform="translate(192.62 715.3) scale(1 0.83) rotate(-45)" font-size="10.2" font-weight="bold" text-anchor="end" fill="#111" stroke="#111" stroke-width="0.2" xml:space="preserve">Hap <tspan class="rn">Ⅸ</tspan></text>
<path d="M65.22 620.7L65.22 621.2L65.22 621.7L65.22 622.2L65.22 622.7L65.22 623.2L65.21 623.7L65.21 624.2L65.2 624.7L65.2 625.2L65.19 625.7L65.19 626.2L65.18 626.7L65.18 627.2L65.17 627.7L65.17 628.2L65.17 628.7L65.16 629.2L65.16 629.7L65.16 630.2L65.15 630.7L65.15 631.2L65.15 631.7L65.15 632.2L65.14 632.7L65.13 633.2L65.11 633.7L65.08 634.2L65.05 634.7L65.02 635.2L64.98 635.7L64.95 636.2L64.91 636.7L64.87 637.2L64.84 637.7L64.8 638.2L64.77 638.7L64.75 639.2L64.73 639.7L64.71 640.2L64.7 640.7L64.69 641.2L64.64 641.7L64.53 642.2L64.39 642.7L64.24 643.2L64.1 643.7L63.98 644.2L63.91 644.7L63.89 645.2L63.74 645.7L63.47 646.2L63.12 646.7L62.75 647.2L62.4 647.7L62.11 648.2L61.93 648.7L61.89 649.2L61.83 649.7L61.72 650.2L61.6 650.7L61.49 651.2L61.41 651.7L61.4 652.2L61.44 652.7L61.51 653.2L61.58 653.7L61.65 654.2L61.69 654.7L61.72 655.2L61.92 655.7L62.26 656.2L62.66 656.7L63.02 657.2L63.26 657.7L63.33 658.2L63.59 658.7L64.01 659.2L64.44 659.7L64.74 660.2L64.82 660.7L64.96 661.2L65.11 661.7L65.15 662L65.45 662L65.49 661.7L65.64 661.2L65.78 660.7L65.86 660.2L66.16 659.7L66.59 659.2L67.01 658.7L67.27 658.2L67.34 657.7L67.58 657.2L67.94 656.7L68.34 656.2L68.68 655.7L68.88 655.2L68.91 654.7L68.95 654.2L69.02 653.7L69.09 653.2L69.16 652.7L69.2 652.2L69.19 651.7L69.11 651.2L69 650.7L68.88 650.2L68.77 649.7L68.71 649.2L68.67 648.7L68.49 648.2L68.2 647.7L67.85 647.2L67.48 646.7L67.13 646.2L66.86 645.7L66.71 645.2L66.69 644.7L66.62 644.2L66.5 643.7L66.36 643.2L66.21 642.7L66.07 642.2L65.96 641.7L65.91 641.2L65.9 640.7L65.89 640.2L65.87 639.7L65.85 639.2L65.83 638.7L65.8 638.2L65.76 637.7L65.73 637.2L65.69 636.7L65.65 636.2L65.62 635.7L65.58 635.2L65.55 634.7L65.52 634.2L65.49 633.7L65.47 633.2L65.46 632.7L65.45 632.2L65.45 631.7L65.45 631.2L65.45 630.7L65.44 630.2L65.44 629.7L65.44 629.2L65.43 628.7L65.43 628.2L65.43 627.7L65.42 627.2L65.42 626.7L65.41 626.2L65.41 625.7L65.4 625.2L65.4 624.7L65.39 624.2L65.39 623.7L65.38 623.2L65.38 622.7L65.38 622.2L65.38 621.7L65.38 621.2L65.38 620.7Z" fill="#fff" stroke="#0a0a0a" stroke-width="1.95" stroke-linejoin="round"/>
<line x1="62.3" y1="652" x2="68.3" y2="652" stroke="#222" stroke-width="0.55" stroke-dasharray="1.6 0.9"/>
<line x1="62.62" y1="655" x2="67.98" y2="655" stroke="#333" stroke-width="0.45" stroke-dasharray="0.6 0.9"/>
<line x1="62.79" y1="649" x2="67.81" y2="649" stroke="#333" stroke-width="0.45" stroke-dasharray="0.6 0.9"/>
<text transform="translate(65.6 617.6) scale(1.13 1)" font-size="9" text-anchor="middle" fill="#111">c</text>
<path d="M80.74 634.4L80.72 634.9L80.68 635.4L80.63 635.9L80.57 636.4L80.51 636.9L80.46 637.4L80.44 637.9L80.4 638.4L80.27 638.9L80.07 639.4L79.84 639.9L79.6 640.4L79.38 640.9L79.22 641.4L79.14 641.9L79.11 642.4L79 642.9L78.82 643.4L78.59 643.9L78.33 644.4L78.05 644.9L77.76 645.4L77.49 645.9L77.24 646.4L77.04 646.9L76.9 647.4L76.84 647.9L76.87 648.4L76.96 648.9L77.09 649.4L77.26 649.9L77.42 650.4L77.57 650.9L77.69 651.4L77.74 651.9L77.81 652.4L78.06 652.9L78.43 653.4L78.87 653.9L79.33 654.4L79.74 654.9L80.04 655.4L80.19 655.9L80.23 656.4L80.36 656.9L80.5 657.4L80.59 657.9L80.59 658.4L80.59 658.9L80.59 659.4L80.59 659.9L80.59 660.4L80.59 660.9L80.59 661.4L80.59 661.9L80.59 662.4L80.59 662.4L81.29 662.4L81.29 662.4L81.29 661.9L81.29 661.4L81.29 660.9L81.29 660.4L81.29 659.9L81.29 659.4L81.29 658.9L81.29 658.4L81.29 657.9L81.38 657.4L81.52 656.9L81.65 656.4L81.69 655.9L81.84 655.4L82.14 654.9L82.55 654.4L83.01 653.9L83.45 653.4L83.82 652.9L84.07 652.4L84.14 651.9L84.19 651.4L84.31 650.9L84.46 650.4L84.62 649.9L84.79 649.4L84.92 648.9L85.01 648.4L85.04 647.9L84.98 647.4L84.84 646.9L84.64 646.4L84.39 645.9L84.12 645.4L83.83 644.9L83.55 644.4L83.29 643.9L83.06 643.4L82.88 642.9L82.77 642.4L82.74 641.9L82.66 641.4L82.5 640.9L82.28 640.4L82.04 639.9L81.81 639.4L81.61 638.9L81.48 638.4L81.44 637.9L81.42 637.4L81.37 636.9L81.31 636.4L81.25 635.9L81.2 635.4L81.16 634.9L81.14 634.4Z" fill="#fff" stroke="#0a0a0a" stroke-width="1.95" stroke-linejoin="round"/>
<line x1="77.77" y1="648.5" x2="84.11" y2="648.5" stroke="#222" stroke-width="0.55" stroke-dasharray="1.6 0.9"/>
<line x1="78.64" y1="652" x2="83.24" y2="652" stroke="#333" stroke-width="0.45" stroke-dasharray="0.6 0.9"/>
<line x1="78.95" y1="645" x2="82.93" y2="645" stroke="#333" stroke-width="0.45" stroke-dasharray="0.6 0.9"/>
<text transform="translate(81.24 631.6) scale(1.13 1)" font-size="9" text-anchor="middle" fill="#111">bc</text>
<path d="M96.43 629.3L96.4 629.8L96.32 630.3L96.23 630.8L96.14 631.3L96.09 631.8L96.07 632.3L95.99 632.8L95.86 633.3L95.7 633.8L95.53 634.3L95.37 634.8L95.25 635.3L95.19 635.8L95.17 636.3L95.09 636.8L94.96 637.3L94.8 637.8L94.61 638.3L94.41 638.8L94.23 639.3L94.07 639.8L93.95 640.3L93.89 640.8L93.87 641.3L93.81 641.8L93.7 642.3L93.56 642.8L93.39 643.3L93.2 643.8L93.02 644.3L92.84 644.8L92.67 645.3L92.54 645.8L92.44 646.3L92.38 646.8L92.4 647.3L92.48 647.8L92.63 648.3L92.81 648.8L92.99 649.3L93.16 649.8L93.3 650.3L93.37 650.8L93.42 651.3L93.63 651.8L93.99 652.3L94.42 652.8L94.88 653.3L95.3 653.8L95.63 654.3L95.81 654.8L95.84 655.3L95.92 655.8L96.03 656.3L96.15 656.8L96.26 657.3L96.32 657.8L96.33 658.3L96.33 658.8L96.34 659.3L96.35 659.8L96.36 660.3L96.37 660.8L96.38 661.3L96.39 661.8L96.4 662.3L96.41 662.8L96.42 663.3L96.42 663.8L96.43 664.3L96.43 664.8L96.43 665L96.73 665L96.73 664.8L96.73 664.3L96.74 663.8L96.74 663.3L96.75 662.8L96.76 662.3L96.77 661.8L96.78 661.3L96.79 660.8L96.8 660.3L96.81 659.8L96.82 659.3L96.83 658.8L96.83 658.3L96.84 657.8L96.9 657.3L97.01 656.8L97.13 656.3L97.24 655.8L97.32 655.3L97.35 654.8L97.53 654.3L97.86 653.8L98.28 653.3L98.74 652.8L99.17 652.3L99.53 651.8L99.74 651.3L99.79 650.8L99.86 650.3L100 649.8L100.17 649.3L100.35 648.8L100.53 648.3L100.68 647.8L100.76 647.3L100.78 646.8L100.72 646.3L100.62 645.8L100.49 645.3L100.32 644.8L100.14 644.3L99.96 643.8L99.77 643.3L99.6 642.8L99.46 642.3L99.35 641.8L99.29 641.3L99.27 640.8L99.21 640.3L99.09 639.8L98.93 639.3L98.75 638.8L98.55 638.3L98.36 637.8L98.2 637.3L98.07 636.8L97.99 636.3L97.97 635.8L97.91 635.3L97.79 634.8L97.63 634.3L97.46 633.8L97.3 633.3L97.17 632.8L97.09 632.3L97.07 631.8L97.02 631.3L96.93 630.8L96.84 630.3L96.76 629.8L96.73 629.3Z" fill="#fff" stroke="#0a0a0a" stroke-width="1.95" stroke-linejoin="round"/>
<line x1="93.34" y1="646.5" x2="99.82" y2="646.5" stroke="#222" stroke-width="0.55" stroke-dasharray="1.6 0.9"/>
<line x1="94.06" y1="650" x2="99.1" y2="650" stroke="#333" stroke-width="0.45" stroke-dasharray="0.6 0.9"/>
<line x1="94.46" y1="643" x2="98.7" y2="643" stroke="#333" stroke-width="0.45" stroke-dasharray="0.6 0.9"/>
<text transform="translate(96.88 625.6) scale(1.13 1)" font-size="9" text-anchor="middle" fill="#111">a</text>
<path d="M111.62 632.7L111.29 633.2L110.76 633.7L110.62 634.2L110.62 634.7L110.62 635.2L110.62 635.7L110.62 636.2L110.62 636.7L110.59 637.2L110.37 637.7L110.04 638.2L109.77 638.7L109.73 639.2L109.8 639.7L109.91 640.2L110 640.7L110.01 641.2L109.88 641.7L109.67 642.2L109.42 642.7L109.2 643.2L109.05 643.7L109.02 644.2L108.98 644.7L108.9 645.2L108.81 645.7L108.69 646.2L108.57 646.7L108.46 647.2L108.35 647.7L108.27 648.2L108.23 648.7L108.23 649.2L108.33 649.7L108.5 650.2L108.7 650.7L108.88 651.2L109 651.7L109.05 652.2L109.36 652.7L109.88 653.2L110.49 653.7L111.04 654.2L111.4 654.7L111.49 655.2L111.67 655.7L111.87 656.2L111.92 656.7L111.92 657.2L111.92 657.7L111.92 658.2L111.92 658.7L111.92 659.2L111.92 659.7L111.92 660L112.52 660L112.52 659.7L112.52 659.2L112.52 658.7L112.52 658.2L112.52 657.7L112.52 657.2L112.52 656.7L112.57 656.2L112.77 655.7L112.95 655.2L113.04 654.7L113.4 654.2L113.95 653.7L114.56 653.2L115.08 652.7L115.39 652.2L115.44 651.7L115.56 651.2L115.74 650.7L115.94 650.2L116.11 649.7L116.21 649.2L116.21 648.7L116.17 648.2L116.09 647.7L115.98 647.2L115.87 646.7L115.75 646.2L115.63 645.7L115.54 645.2L115.46 644.7L115.42 644.2L115.39 643.7L115.24 643.2L115.02 642.7L114.77 642.2L114.56 641.7L114.43 641.2L114.44 640.7L114.53 640.2L114.64 639.7L114.71 639.2L114.67 638.7L114.4 638.2L114.07 637.7L113.85 637.2L113.82 636.7L113.82 636.2L113.82 635.7L113.82 635.2L113.82 634.7L113.82 634.2L113.68 633.7L113.15 633.2L112.82 632.7Z" fill="#fff" stroke="#0a0a0a" stroke-width="1.95" stroke-linejoin="round"/>
<line x1="109.59" y1="646" x2="114.85" y2="646" stroke="#222" stroke-width="0.55" stroke-dasharray="1.6 0.9"/>
<line x1="109.4" y1="650" x2="115.04" y2="650" stroke="#333" stroke-width="0.45" stroke-dasharray="0.6 0.9"/>
<line x1="110.57" y1="642" x2="113.87" y2="642" stroke="#333" stroke-width="0.45" stroke-dasharray="0.6 0.9"/>
<text transform="translate(112.52 629.6) scale(1.13 1)" font-size="9" text-anchor="middle" fill="#111">a</text>
<path d="M127.71 626L127.71 626.5L127.7 627L127.7 627.5L127.69 628L127.68 628.5L127.67 629L127.66 629.5L127.65 630L127.64 630.5L127.63 631L127.62 631.5L127.62 632L127.61 632.5L127.61 633L127.57 633.5L127.46 634L127.31 634.5L127.14 635L126.96 635.5L126.81 636L126.7 636.5L126.66 637L126.6 637.5L126.43 638L126.19 638.5L125.91 639L125.63 639.5L125.39 640L125.22 640.5L125.16 641L125.13 641.5L125.04 642L124.9 642.5L124.74 643L124.55 643.5L124.35 644L124.16 644.5L123.98 645L123.83 645.5L123.72 646L123.67 646.5L123.67 647L123.73 647.5L123.83 648L123.94 648.5L124.05 649L124.13 649.5L124.16 650L124.25 650.5L124.47 651L124.79 651.5L125.16 652L125.53 652.5L125.85 653L126.07 653.5L126.16 654L126.37 654.5L126.83 655L127.3 655.5L127.51 656L127.51 656.5L127.51 657L127.52 657.5L127.53 658L127.53 658.5L127.54 659L127.55 659.5L127.56 660L127.57 660.5L127.58 661L127.59 661.5L127.59 662L127.6 662.5L127.61 663L127.61 663.5L127.61 664L127.61 664L128.11 664L128.11 664L128.11 663.5L128.11 663L128.12 662.5L128.13 662L128.13 661.5L128.14 661L128.15 660.5L128.16 660L128.17 659.5L128.18 659L128.19 658.5L128.19 658L128.2 657.5L128.21 657L128.21 656.5L128.21 656L128.42 655.5L128.88 655L129.35 654.5L129.56 654L129.65 653.5L129.87 653L130.19 652.5L130.56 652L130.93 651.5L131.25 651L131.47 650.5L131.56 650L131.59 649.5L131.67 649L131.78 648.5L131.89 648L131.99 647.5L132.05 647L132.05 646.5L132 646L131.89 645.5L131.74 645L131.56 644.5L131.37 644L131.17 643.5L130.98 643L130.82 642.5L130.68 642L130.59 641.5L130.56 641L130.5 640.5L130.33 640L130.09 639.5L129.81 639L129.53 638.5L129.29 638L129.12 637.5L129.06 637L129.02 636.5L128.91 636L128.76 635.5L128.59 635L128.41 634.5L128.26 634L128.15 633.5L128.11 633L128.11 632.5L128.1 632L128.1 631.5L128.09 631L128.08 630.5L128.07 630L128.06 629.5L128.05 629L128.04 628.5L128.03 628L128.02 627.5L128.02 627L128.01 626.5L128.01 626Z" fill="#fff" stroke="#0a0a0a" stroke-width="1.95" stroke-linejoin="round"/>
<line x1="124.57" y1="646.5" x2="131.15" y2="646.5" stroke="#222" stroke-width="0.55" stroke-dasharray="1.6 0.9"/>
<line x1="125.06" y1="650" x2="130.66" y2="650" stroke="#333" stroke-width="0.45" stroke-dasharray="0.6 0.9"/>
<line x1="125.64" y1="643" x2="130.08" y2="643" stroke="#333" stroke-width="0.45" stroke-dasharray="0.6 0.9"/>
<text transform="translate(128.16 623.6) scale(1.13 1)" font-size="9" text-anchor="middle" fill="#111">ab</text>
<path d="M143.35 626L143.35 626.5L143.34 627L143.34 627.5L143.33 628L143.32 628.5L143.31 629L143.3 629.5L143.29 630L143.28 630.5L143.27 631L143.26 631.5L143.26 632L143.25 632.5L143.25 633L143.19 633.5L143.02 634L142.79 634.5L142.53 635L142.26 635.5L142.03 636L141.86 636.5L141.8 637L141.74 637.5L141.57 638L141.33 638.5L141.05 639L140.77 639.5L140.53 640L140.36 640.5L140.3 641L140.26 641.5L140.14 642L139.98 642.5L139.8 643L139.62 643.5L139.46 644L139.34 644.5L139.3 645L139.34 645.5L139.46 646L139.62 646.5L139.8 647L139.98 647.5L140.14 648L140.26 648.5L140.3 649L140.39 649.5L140.61 650L140.93 650.5L141.3 651L141.67 651.5L141.99 652L142.21 652.5L142.3 653L142.33 653.5L142.41 654L142.52 654.5L142.65 655L142.78 655.5L142.89 656L142.97 656.5L143 657L143.01 657.5L143.02 658L143.04 658.5L143.07 659L143.11 659.5L143.15 660L143.19 660.5L143.23 661L143.26 661.5L143.29 662L143.32 662.5L143.34 663L143.35 663.5L143.35 663.7L143.65 663.7L143.65 663.5L143.66 663L143.68 662.5L143.71 662L143.74 661.5L143.77 661L143.81 660.5L143.85 660L143.89 659.5L143.93 659L143.96 658.5L143.98 658L143.99 657.5L144 657L144.03 656.5L144.11 656L144.22 655.5L144.35 655L144.48 654.5L144.59 654L144.67 653.5L144.7 653L144.79 652.5L145.01 652L145.33 651.5L145.7 651L146.07 650.5L146.39 650L146.61 649.5L146.7 649L146.74 648.5L146.86 648L147.02 647.5L147.2 647L147.38 646.5L147.54 646L147.66 645.5L147.7 645L147.66 644.5L147.54 644L147.38 643.5L147.2 643L147.02 642.5L146.86 642L146.74 641.5L146.7 641L146.64 640.5L146.47 640L146.23 639.5L145.95 639L145.67 638.5L145.43 638L145.26 637.5L145.2 637L145.14 636.5L144.97 636L144.74 635.5L144.47 635L144.21 634.5L143.98 634L143.81 633.5L143.75 633L143.75 632.5L143.74 632L143.74 631.5L143.73 631L143.72 630.5L143.71 630L143.7 629.5L143.69 629L143.68 628.5L143.67 628L143.66 627.5L143.66 627L143.65 626.5L143.65 626Z" fill="#fff" stroke="#0a0a0a" stroke-width="1.95" stroke-linejoin="round"/>
<line x1="140.24" y1="645.5" x2="146.76" y2="645.5" stroke="#222" stroke-width="0.55" stroke-dasharray="1.6 0.9"/>
<line x1="141.2" y1="649" x2="145.8" y2="649" stroke="#333" stroke-width="0.45" stroke-dasharray="0.6 0.9"/>
<line x1="141.04" y1="642" x2="145.96" y2="642" stroke="#333" stroke-width="0.45" stroke-dasharray="0.6 0.9"/>
<text transform="translate(143.8 623.6) scale(1.13 1)" font-size="9" text-anchor="middle" fill="#111">a</text>
<path d="M158.84 631.3L158.84 631.8L158.84 632.3L158.84 632.8L158.84 633.3L158.84 633.8L158.84 634.3L158.86 634.8L158.88 635.3L158.89 635.8L158.86 636.3L158.71 636.8L158.53 637.3L158.4 637.8L158.41 638.3L158.51 638.8L158.64 639.3L158.73 639.8L158.71 640.3L158.56 640.8L158.34 641.3L158.09 641.8L157.88 642.3L157.75 642.8L157.72 643.3L157.6 643.8L157.42 644.3L157.22 644.8L157.05 645.3L156.95 645.8L156.9 646.3L156.69 646.8L156.36 647.3L155.97 647.8L155.61 648.3L155.35 648.8L155.24 649.3L155.35 649.8L155.61 650.3L155.94 650.8L156.24 651.3L156.42 651.8L156.49 652.3L156.78 652.8L157.22 653.3L157.7 653.8L158.12 654.3L158.37 654.8L158.42 655.3L158.57 655.8L158.75 656.3L158.88 656.8L158.89 657.3L158.89 657.8L158.89 658.3L158.9 658.8L158.9 659.3L158.9 659.8L158.91 660.3L158.91 660.8L158.92 661.3L158.92 661.8L158.93 662.3L158.93 662.8L158.93 663.3L158.94 663.8L158.94 664.3L158.94 664.8L158.94 665.3L158.94 665.3L159.34 665.3L159.34 665.3L159.34 664.8L159.34 664.3L159.34 663.8L159.35 663.3L159.35 662.8L159.35 662.3L159.36 661.8L159.36 661.3L159.37 660.8L159.37 660.3L159.38 659.8L159.38 659.3L159.38 658.8L159.39 658.3L159.39 657.8L159.39 657.3L159.4 656.8L159.53 656.3L159.71 655.8L159.86 655.3L159.91 654.8L160.16 654.3L160.58 653.8L161.06 653.3L161.5 652.8L161.79 652.3L161.86 651.8L162.04 651.3L162.34 650.8L162.67 650.3L162.93 649.8L163.04 649.3L162.93 648.8L162.67 648.3L162.31 647.8L161.92 647.3L161.59 646.8L161.38 646.3L161.33 645.8L161.23 645.3L161.06 644.8L160.86 644.3L160.68 643.8L160.56 643.3L160.53 642.8L160.4 642.3L160.19 641.8L159.94 641.3L159.72 640.8L159.57 640.3L159.55 639.8L159.64 639.3L159.77 638.8L159.87 638.3L159.88 637.8L159.75 637.3L159.57 636.8L159.42 636.3L159.39 635.8L159.4 635.3L159.42 634.8L159.44 634.3L159.44 633.8L159.44 633.3L159.44 632.8L159.44 632.3L159.44 631.8L159.44 631.3Z" fill="#fff" stroke="#0a0a0a" stroke-width="1.95" stroke-linejoin="round"/>
<line x1="156.25" y1="649" x2="162.03" y2="649" stroke="#222" stroke-width="0.55" stroke-dasharray="1.6 0.9"/>
<line x1="157.32" y1="652" x2="160.96" y2="652" stroke="#333" stroke-width="0.45" stroke-dasharray="0.6 0.9"/>
<line x1="157.85" y1="646" x2="160.43" y2="646" stroke="#333" stroke-width="0.45" stroke-dasharray="0.6 0.9"/>
<text transform="translate(159.44 628.1) scale(1.13 1)" font-size="9" text-anchor="middle" fill="#111">ab</text>
<path d="M174.18 634L174.16 634.5L174.13 635L174.1 635.5L174.08 636L174.04 636.5L173.92 637L173.76 637.5L173.58 638L173.4 638.5L173.24 639L173.12 639.5L173.08 640L172.99 640.5L172.77 641L172.5 641.5L172.25 642L172.1 642.5L172.1 643L172.24 643.5L172.45 644L172.72 644.5L173 645L173.26 645.5L173.46 646L173.57 646.5L173.53 647L173.27 647.5L172.84 648L172.3 648.5L171.75 649L171.23 649.5L170.82 650L170.6 650.5L170.65 651L171 651.5L171.39 652L171.58 652.5L172.25 653L173.51 653.5L174.18 654L174.17 654.5L174.15 655L174.13 655.5L174.11 656L174.09 656.5L174.08 657L174.08 657.5L174.08 658L174.08 658.5L174.08 659L174.08 659.5L174.08 660L174.18 660.5L174.34 661L174.38 661.3L175.18 661.3L175.22 661L175.38 660.5L175.48 660L175.48 659.5L175.48 659L175.48 658.5L175.48 658L175.48 657.5L175.48 657L175.47 656.5L175.45 656L175.43 655.5L175.41 655L175.39 654.5L175.38 654L176.05 653.5L177.31 653L177.98 652.5L178.17 652L178.56 651.5L178.91 651L178.96 650.5L178.74 650L178.33 649.5L177.81 649L177.26 648.5L176.72 648L176.29 647.5L176.03 647L175.99 646.5L176.1 646L176.3 645.5L176.56 645L176.84 644.5L177.11 644L177.32 643.5L177.46 643L177.46 642.5L177.31 642L177.06 641.5L176.79 641L176.57 640.5L176.48 640L176.44 639.5L176.32 639L176.16 638.5L175.98 638L175.8 637.5L175.64 637L175.52 636.5L175.48 636L175.46 635.5L175.43 635L175.4 634.5L175.38 634Z" fill="#fff" stroke="#0a0a0a" stroke-width="1.95" stroke-linejoin="round"/>
<line x1="172.65" y1="649" x2="176.91" y2="649" stroke="#222" stroke-width="0.55" stroke-dasharray="1.6 0.9"/>
<line x1="171.9" y1="651.5" x2="177.66" y2="651.5" stroke="#333" stroke-width="0.45" stroke-dasharray="0.6 0.9"/>
<line x1="173.35" y1="644" x2="176.21" y2="644" stroke="#333" stroke-width="0.45" stroke-dasharray="0.6 0.9"/>
<text transform="translate(175.08 629.6) scale(1.13 1)" font-size="9" text-anchor="middle" fill="#111">ab</text>
<path d="M190.32 622L190.32 622.5L190.31 623L190.31 623.5L190.3 624L190.29 624.5L190.28 625L190.26 625.5L190.25 626L190.23 626.5L190.22 627L190.21 627.5L190.19 628L190.18 628.5L190.16 629L190.15 629.5L190.14 630L190.13 630.5L190.13 631L190.12 631.5L190.12 632L190.09 632.5L190.01 633L189.9 633.5L189.77 634L189.64 634.5L189.53 635L189.45 635.5L189.42 636L189.33 636.5L189.08 637L188.72 637.5L188.32 638L187.92 638.5L187.56 639L187.31 639.5L187.22 640L187.19 640.5L187.1 641L186.97 641.5L186.82 642L186.67 642.5L186.55 643L186.45 643.5L186.42 644L186.45 644.5L186.51 645L186.61 645.5L186.72 646L186.83 646.5L186.93 647L186.99 647.5L187.02 648L187.11 648.5L187.33 649L187.65 649.5L188.02 650L188.39 650.5L188.71 651L188.93 651.5L189.02 652L189.06 652.5L189.18 653L189.34 653.5L189.52 654L189.7 654.5L189.86 655L189.98 655.5L190.02 656L190.03 656.5L190.04 657L190.07 657.5L190.1 658L190.12 658.5L190.15 659L190.16 659.5L190.17 660L190.17 660.5L190.17 661L190.17 661.5L190.18 662L190.18 662.5L190.19 663L190.19 663.5L190.2 664L190.2 664.5L190.21 665L190.22 665.5L190.22 666L190.23 666.5L190.24 667L190.24 667.5L190.25 668L190.25 668.5L190.26 669L190.26 669.5L190.27 670L190.27 670.5L190.27 671L190.27 671.3L190.57 671.3L190.57 671L190.57 670.5L190.57 670L190.58 669.5L190.58 669L190.59 668.5L190.59 668L190.6 667.5L190.6 667L190.61 666.5L190.62 666L190.62 665.5L190.63 665L190.64 664.5L190.64 664L190.65 663.5L190.65 663L190.66 662.5L190.66 662L190.67 661.5L190.67 661L190.67 660.5L190.67 660L190.68 659.5L190.69 659L190.72 658.5L190.75 658L190.77 657.5L190.8 657L190.81 656.5L190.82 656L190.86 655.5L190.98 655L191.14 654.5L191.32 654L191.5 653.5L191.66 653L191.78 652.5L191.82 652L191.91 651.5L192.13 651L192.45 650.5L192.82 650L193.19 649.5L193.51 649L193.73 648.5L193.82 648L193.85 647.5L193.91 647L194.01 646.5L194.12 646L194.23 645.5L194.33 645L194.39 644.5L194.42 644L194.39 643.5L194.3 643L194.17 642.5L194.02 642L193.87 641.5L193.75 641L193.65 640.5L193.62 640L193.53 639.5L193.28 639L192.92 638.5L192.52 638L192.12 637.5L191.76 637L191.51 636.5L191.42 636L191.39 635.5L191.31 635L191.2 634.5L191.07 634L190.94 633.5L190.83 633L190.75 632.5L190.72 632L190.72 631.5L190.71 631L190.71 630.5L190.7 630L190.69 629.5L190.68 629L190.66 628.5L190.65 628L190.63 627.5L190.62 627L190.61 626.5L190.59 626L190.58 625.5L190.56 625L190.55 624.5L190.54 624L190.53 623.5L190.53 623L190.52 622.5L190.52 622Z" fill="#fff" stroke="#0a0a0a" stroke-width="1.95" stroke-linejoin="round"/>
<line x1="187.35" y1="644.5" x2="193.49" y2="644.5" stroke="#222" stroke-width="0.55" stroke-dasharray="1.6 0.9"/>
<line x1="187.92" y1="648" x2="192.92" y2="648" stroke="#333" stroke-width="0.45" stroke-dasharray="0.6 0.9"/>
<line x1="188" y1="641" x2="192.85" y2="641" stroke="#333" stroke-width="0.45" stroke-dasharray="0.6 0.9"/>
<text transform="translate(190.72 619.3) scale(1.13 1)" font-size="9" text-anchor="middle" fill="#111">a</text>
<line x1="242.8" y1="605.6" x2="242.8" y2="701.2" stroke="#0a0a0a" stroke-width="1.9"/>
<line x1="235.2" y1="700.5" x2="389.2" y2="700.5" stroke="#0a0a0a" stroke-width="1.7"/>
<line x1="235.2" y1="606.3" x2="242.8" y2="606.3" stroke="#0a0a0a" stroke-width="1.5"/>
<text x="232.8" y="609.6" font-size="9.3" font-weight="bold" text-anchor="end" fill="#111">5</text>
<line x1="235.2" y1="625.2" x2="242.8" y2="625.2" stroke="#0a0a0a" stroke-width="1.5"/>
<text x="232.8" y="628.5" font-size="9.3" font-weight="bold" text-anchor="end" fill="#111">4</text>
<line x1="235.2" y1="644" x2="242.8" y2="644" stroke="#0a0a0a" stroke-width="1.5"/>
<text x="232.8" y="647.3" font-size="9.3" font-weight="bold" text-anchor="end" fill="#111">3</text>
<line x1="235.2" y1="662.8" x2="242.8" y2="662.8" stroke="#0a0a0a" stroke-width="1.5"/>
<text x="232.8" y="666.1" font-size="9.3" font-weight="bold" text-anchor="end" fill="#111">2</text>
<line x1="235.2" y1="681.6" x2="242.8" y2="681.6" stroke="#0a0a0a" stroke-width="1.5"/>
<text x="232.8" y="684.9" font-size="9.3" font-weight="bold" text-anchor="end" fill="#111">1</text>
<text x="232.8" y="703.8" font-size="9.3" font-weight="bold" text-anchor="end" fill="#111">0</text>
<line x1="252.7" y1="700.5" x2="252.7" y2="706.5" stroke="#0a0a0a" stroke-width="1.5"/>
<line x1="268.36" y1="700.5" x2="268.36" y2="706.5" stroke="#0a0a0a" stroke-width="1.5"/>
<line x1="284.02" y1="700.5" x2="284.02" y2="706.5" stroke="#0a0a0a" stroke-width="1.5"/>
<line x1="299.68" y1="700.5" x2="299.68" y2="706.5" stroke="#0a0a0a" stroke-width="1.5"/>
<line x1="315.34" y1="700.5" x2="315.34" y2="706.5" stroke="#0a0a0a" stroke-width="1.5"/>
<line x1="331" y1="700.5" x2="331" y2="706.5" stroke="#0a0a0a" stroke-width="1.5"/>
<line x1="346.66" y1="700.5" x2="346.66" y2="706.5" stroke="#0a0a0a" stroke-width="1.5"/>
<line x1="362.32" y1="700.5" x2="362.32" y2="706.5" stroke="#0a0a0a" stroke-width="1.5"/>
<line x1="377.98" y1="700.5" x2="377.98" y2="706.5" stroke="#0a0a0a" stroke-width="1.5"/>
<text transform="translate(219 654.5) rotate(-90)" font-size="9.3" font-weight="bold" text-anchor="middle" fill="#111" font-family='"Liberation Sans", "Noto Serif CJK SC", "IPAGothic", sans-serif'>Grain width (mm)</text>
<text transform="translate(254.9 715.3) scale(1 0.83) rotate(-45)" font-size="10.2" font-weight="bold" text-anchor="end" fill="#111" stroke="#111" stroke-width="0.2" xml:space="preserve">Hap I</text>
<text transform="translate(270.56 715.3) scale(1 0.83) rotate(-45)" font-size="10.2" font-weight="bold" text-anchor="end" fill="#111" stroke="#111" stroke-width="0.2" xml:space="preserve">Hap <tspan class="rn">Ⅱ</tspan></text>
<text transform="translate(286.22 715.3) scale(1 0.83) rotate(-45)" font-size="10.2" font-weight="bold" text-anchor="end" fill="#111" stroke="#111" stroke-width="0.2" xml:space="preserve">Hap <tspan class="rn">Ⅲ</tspan></text>
<text transform="translate(301.88 715.3) scale(1 0.83) rotate(-45)" font-size="10.2" font-weight="bold" text-anchor="end" fill="#111" stroke="#111" stroke-width="0.2" xml:space="preserve">Hap <tspan class="rn">Ⅳ</tspan></text>
<text transform="translate(317.54 715.3) scale(1 0.83) rotate(-45)" font-size="10.2" font-weight="bold" text-anchor="end" fill="#111" stroke="#111" stroke-width="0.2" xml:space="preserve">Hap V</text>
<text transform="translate(333.2 715.3) scale(1 0.83) rotate(-45)" font-size="10.2" font-weight="bold" text-anchor="end" fill="#111" stroke="#111" stroke-width="0.2" xml:space="preserve">Hap <tspan class="rn">Ⅵ</tspan></text>
<text transform="translate(348.86 715.3) scale(1 0.83) rotate(-45)" font-size="10.2" font-weight="bold" text-anchor="end" fill="#111" stroke="#111" stroke-width="0.2" xml:space="preserve">Hap <tspan class="rn">Ⅶ</tspan></text>
<text transform="translate(364.52 715.3) scale(1 0.83) rotate(-45)" font-size="10.2" font-weight="bold" text-anchor="end" fill="#111" stroke="#111" stroke-width="0.2" xml:space="preserve">Hap <tspan class="rn">Ⅷ</tspan></text>
<text transform="translate(380.18 715.3) scale(1 0.83) rotate(-45)" font-size="10.2" font-weight="bold" text-anchor="end" fill="#111" stroke="#111" stroke-width="0.2" xml:space="preserve">Hap <tspan class="rn">Ⅸ</tspan></text>
<path d="M252.3 628.7L252.29 629.2L252.26 629.7L252.23 630.2L252.2 630.7L252.19 631.2L252.1 631.7L251.95 632.2L251.78 632.7L251.62 633.2L251.52 633.7L251.48 634.2L251.27 634.7L250.9 635.2L250.41 635.7L249.89 636.2L249.4 636.7L248.99 637.2L248.74 637.7L248.75 638.2L249.21 638.7L249.87 639.2L250.39 639.7L250.51 640.2L250.64 640.7L250.82 641.2L250.97 641.7L251.02 642.2L251.17 642.7L251.42 643.2L251.72 643.7L251.99 644.2L252.17 644.7L252.21 645.2L252.28 645.7L252.3 646.2L252.3 646.7L252.3 647.2L252.3 647.7L252.3 648.2L252.3 648.7L252.3 649.2L252.3 649.7L252.3 650.2L252.3 650.7L252.3 651.2L252.3 651.3L253.1 651.3L253.1 651.2L253.1 650.7L253.1 650.2L253.1 649.7L253.1 649.2L253.1 648.7L253.1 648.2L253.1 647.7L253.1 647.2L253.1 646.7L253.1 646.2L253.12 645.7L253.19 645.2L253.23 644.7L253.41 644.2L253.68 643.7L253.98 643.2L254.23 642.7L254.38 642.2L254.43 641.7L254.58 641.2L254.76 640.7L254.89 640.2L255.01 639.7L255.53 639.2L256.19 638.7L256.65 638.2L256.66 637.7L256.41 637.2L256 636.7L255.51 636.2L254.99 635.7L254.5 635.2L254.13 634.7L253.92 634.2L253.88 633.7L253.78 633.2L253.62 632.7L253.45 632.2L253.3 631.7L253.21 631.2L253.2 630.7L253.17 630.2L253.14 629.7L253.11 629.2L253.1 628.7Z" fill="#fff" stroke="#0a0a0a" stroke-width="1.95" stroke-linejoin="round"/>
<line x1="249.65" y1="638" x2="255.75" y2="638" stroke="#222" stroke-width="0.55" stroke-dasharray="1.6 0.9"/>
<line x1="251.54" y1="640.5" x2="253.86" y2="640.5" stroke="#333" stroke-width="0.45" stroke-dasharray="0.6 0.9"/>
<line x1="251.31" y1="635.5" x2="254.09" y2="635.5" stroke="#333" stroke-width="0.45" stroke-dasharray="0.6 0.9"/>
<text transform="translate(253 625.6) scale(1.13 1)" font-size="9" text-anchor="middle" fill="#111">a</text>
<path d="M267.96 625.3L267.95 625.8L267.93 626.3L267.9 626.8L267.88 627.3L267.86 627.8L267.83 628.3L267.7 628.8L267.5 629.3L267.28 629.8L267.08 630.3L266.97 630.8L266.95 631.3L266.92 631.8L266.86 632.3L266.78 632.8L266.7 633.3L266.61 633.8L266.52 634.3L266.45 634.8L266.39 635.3L266.36 635.8L266.35 636.3L266.29 636.8L266.19 637.3L266.06 637.8L265.93 638.3L265.81 638.8L265.72 639.3L265.67 639.8L265.61 640.3L265.38 640.8L265.09 641.3L264.88 641.8L264.93 642.3L265.25 642.8L265.65 643.3L265.93 643.8L265.97 644.3L266 644.8L266.06 645.3L266.13 645.8L266.2 646.3L266.27 646.8L266.33 647.3L266.36 647.8L266.38 648.3L266.49 648.8L266.67 649.3L266.89 649.8L267.12 650.3L267.34 650.8L267.51 651.3L267.6 651.8L267.62 652.3L267.66 652.8L267.73 653.3L267.81 653.8L267.88 654.3L267.94 654.8L267.96 655.3L267.96 655.3L268.76 655.3L268.76 655.3L268.78 654.8L268.84 654.3L268.91 653.8L268.99 653.3L269.06 652.8L269.1 652.3L269.12 651.8L269.21 651.3L269.38 650.8L269.6 650.3L269.83 649.8L270.05 649.3L270.23 648.8L270.34 648.3L270.36 647.8L270.39 647.3L270.45 646.8L270.52 646.3L270.59 645.8L270.66 645.3L270.72 644.8L270.75 644.3L270.79 643.8L271.07 643.3L271.47 642.8L271.79 642.3L271.84 641.8L271.63 641.3L271.34 640.8L271.11 640.3L271.05 639.8L271 639.3L270.91 638.8L270.79 638.3L270.66 637.8L270.53 637.3L270.43 636.8L270.37 636.3L270.36 635.8L270.33 635.3L270.27 634.8L270.2 634.3L270.11 633.8L270.02 633.3L269.94 632.8L269.86 632.3L269.8 631.8L269.77 631.3L269.75 630.8L269.64 630.3L269.44 629.8L269.22 629.3L269.02 628.8L268.89 628.3L268.86 627.8L268.84 627.3L268.82 626.8L268.79 626.3L268.77 625.8L268.76 625.3Z" fill="#fff" stroke="#0a0a0a" stroke-width="1.95" stroke-linejoin="round"/>
<line x1="265.78" y1="642" x2="270.94" y2="642" stroke="#222" stroke-width="0.55" stroke-dasharray="1.6 0.9"/>
<line x1="267.03" y1="646" x2="269.69" y2="646" stroke="#333" stroke-width="0.45" stroke-dasharray="0.6 0.9"/>
<line x1="267.19" y1="637" x2="269.53" y2="637" stroke="#333" stroke-width="0.45" stroke-dasharray="0.6 0.9"/>
<text transform="translate(268.66 623.6) scale(1.13 1)" font-size="9" text-anchor="middle" fill="#111">a</text>
<path d="M283.77 627.3L283.76 627.8L283.74 628.3L283.72 628.8L283.69 629.3L283.66 629.8L283.63 630.3L283.62 630.8L283.61 631.3L283.54 631.8L283.42 632.3L283.28 632.8L283.13 633.3L282.99 633.8L282.88 634.3L282.83 634.8L282.8 635.3L282.72 635.8L282.57 636.3L282.39 636.8L282.21 637.3L282.04 637.8L281.9 638.3L281.83 638.8L281.8 639.3L281.67 639.8L281.45 640.3L281.18 640.8L280.88 641.3L280.6 641.8L280.35 642.3L280.18 642.8L280.12 643.3L280.31 643.8L280.69 644.3L280.99 644.8L280.95 645.3L280.64 645.8L280.35 646.3L280.38 646.8L280.68 647.3L281.11 647.8L281.53 648.3L281.79 648.8L281.84 649.3L281.94 649.8L282.12 650.3L282.33 650.8L282.55 651.3L282.76 651.8L282.92 652.3L283.01 652.8L283.04 653.3L283.13 653.8L283.28 654.3L283.44 654.8L283.58 655.3L283.66 655.8L283.67 656.3L283.67 656.8L283.67 657.3L283.68 657.8L283.68 658.3L283.69 658.8L283.69 659.3L283.7 659.8L283.71 660.3L283.71 660.8L283.71 661.3L283.72 661.8L283.72 662.3L283.72 662.7L284.32 662.7L284.32 662.3L284.32 661.8L284.33 661.3L284.33 660.8L284.33 660.3L284.34 659.8L284.35 659.3L284.35 658.8L284.36 658.3L284.36 657.8L284.37 657.3L284.37 656.8L284.37 656.3L284.38 655.8L284.46 655.3L284.6 654.8L284.76 654.3L284.91 653.8L285 653.3L285.03 652.8L285.12 652.3L285.28 651.8L285.49 651.3L285.71 650.8L285.92 650.3L286.1 649.8L286.2 649.3L286.25 648.8L286.51 648.3L286.93 647.8L287.36 647.3L287.66 646.8L287.69 646.3L287.4 645.8L287.09 645.3L287.05 644.8L287.35 644.3L287.73 643.8L287.92 643.3L287.86 642.8L287.69 642.3L287.44 641.8L287.16 641.3L286.86 640.8L286.59 640.3L286.37 639.8L286.24 639.3L286.21 638.8L286.14 638.3L286 637.8L285.83 637.3L285.65 636.8L285.47 636.3L285.32 635.8L285.24 635.3L285.21 634.8L285.16 634.3L285.05 633.8L284.91 633.3L284.76 632.8L284.62 632.3L284.5 631.8L284.43 631.3L284.42 630.8L284.41 630.3L284.38 629.8L284.35 629.3L284.32 628.8L284.3 628.3L284.28 627.8L284.27 627.3Z" fill="#fff" stroke="#0a0a0a" stroke-width="1.95" stroke-linejoin="round"/>
<line x1="281.89" y1="645" x2="286.15" y2="645" stroke="#222" stroke-width="0.55" stroke-dasharray="1.6 0.9"/>
<line x1="282.43" y1="648.5" x2="285.61" y2="648.5" stroke="#333" stroke-width="0.45" stroke-dasharray="0.6 0.9"/>
<line x1="282.08" y1="641" x2="285.96" y2="641" stroke="#333" stroke-width="0.45" stroke-dasharray="0.6 0.9"/>
<text transform="translate(284.32 624.1) scale(1.13 1)" font-size="9" text-anchor="middle" fill="#111">b</text>
<path d="M299.28 632.7L299.27 633.2L299.26 633.7L299.24 634.2L299.21 634.7L299.19 635.2L299.18 635.7L299.17 636.2L299.08 636.7L298.92 637.2L298.71 637.7L298.49 638.2L298.28 638.7L298.1 639.2L298 639.7L297.97 640.2L297.86 640.7L297.66 641.2L297.4 641.7L297.12 642.2L296.85 642.7L296.64 643.2L296.5 643.7L296.47 644.2L296.33 644.7L296.1 645.2L295.86 645.7L295.66 646.2L295.58 646.7L295.75 647.2L296.14 647.7L296.59 648.2L296.91 648.7L297 649.2L297.15 649.7L297.4 650.2L297.7 650.7L297.97 651.2L298.15 651.7L298.18 652.2L298.21 652.7L298.27 653.2L298.34 653.7L298.4 654.2L298.45 654.7L298.48 655.2L298.48 655.3L300.88 655.3L300.88 655.2L300.91 654.7L300.96 654.2L301.02 653.7L301.09 653.2L301.15 652.7L301.18 652.2L301.21 651.7L301.39 651.2L301.66 650.7L301.96 650.2L302.21 649.7L302.36 649.2L302.45 648.7L302.77 648.2L303.22 647.7L303.61 647.2L303.78 646.7L303.7 646.2L303.5 645.7L303.26 645.2L303.03 644.7L302.89 644.2L302.86 643.7L302.72 643.2L302.51 642.7L302.24 642.2L301.96 641.7L301.7 641.2L301.5 640.7L301.39 640.2L301.36 639.7L301.26 639.2L301.08 638.7L300.87 638.2L300.65 637.7L300.44 637.2L300.28 636.7L300.19 636.2L300.18 635.7L300.17 635.2L300.15 634.7L300.12 634.2L300.1 633.7L300.09 633.2L300.08 632.7Z" fill="#fff" stroke="#0a0a0a" stroke-width="1.95" stroke-linejoin="round"/>
<line x1="296.48" y1="646.5" x2="302.88" y2="646.5" stroke="#222" stroke-width="0.55" stroke-dasharray="1.6 0.9"/>
<line x1="298.3" y1="650" x2="301.06" y2="650" stroke="#333" stroke-width="0.45" stroke-dasharray="0.6 0.9"/>
<line x1="297.54" y1="643" x2="301.82" y2="643" stroke="#333" stroke-width="0.45" stroke-dasharray="0.6 0.9"/>
<text transform="translate(299.98 629.6) scale(1.13 1)" font-size="9" text-anchor="middle" fill="#111">b</text>
<path d="M315.14 623.3L315.14 623.8L315.13 624.3L315.13 624.8L315.12 625.3L315.11 625.8L315.1 626.3L315.09 626.8L315.08 627.3L315.07 627.8L315.06 628.3L315.05 628.8L315.04 629.3L315.04 629.8L315.01 630.3L314.88 630.8L314.68 631.3L314.46 631.8L314.26 632.3L314.15 632.8L314.11 633.3L313.93 633.8L313.64 634.3L313.29 634.8L312.92 635.3L312.57 635.8L312.3 636.3L312.15 636.8L312.12 637.3L312.04 637.8L311.89 638.3L311.71 638.8L311.53 639.3L311.36 639.8L311.22 640.3L311.15 640.8L311.14 641.3L311.14 641.8L311.14 642.3L311.14 642.8L311.14 643.3L311.14 643.8L311.14 644.3L311.14 644.8L311.14 645.3L311.14 645.8L311.14 646.3L311.14 646.8L311.14 647.3L311.14 647.8L311.14 648.3L311.14 648.8L311.16 649.3L311.3 649.8L311.51 650.3L311.78 650.8L312.06 651.3L312.32 651.8L312.52 652.3L312.63 652.8L312.67 653.3L312.86 653.8L313.16 654.3L313.53 654.8L313.92 655.3L314.29 655.8L314.57 656.3L314.72 656.8L314.76 657.3L314.86 657.8L314.99 658.3L315.08 658.8L315.09 659.3L315.09 659.8L315.09 660.3L315.09 660.8L315.09 661.3L315.09 661.8L315.09 662.3L315.09 662.8L315.09 663.3L315.09 663.8L315.09 664.3L315.09 664.8L315.09 665.3L315.09 665.8L315.09 666.3L315.09 666.8L315.09 667.3L315.09 667.8L315.09 668.3L315.09 668.8L315.09 669.3L315.09 669.8L315.09 670L315.59 670L315.59 669.8L315.59 669.3L315.59 668.8L315.59 668.3L315.59 667.8L315.59 667.3L315.59 666.8L315.59 666.3L315.59 665.8L315.59 665.3L315.59 664.8L315.59 664.3L315.59 663.8L315.59 663.3L315.59 662.8L315.59 662.3L315.59 661.8L315.59 661.3L315.59 660.8L315.59 660.3L315.59 659.8L315.59 659.3L315.6 658.8L315.69 658.3L315.82 657.8L315.92 657.3L315.96 656.8L316.11 656.3L316.39 655.8L316.76 655.3L317.15 654.8L317.52 654.3L317.82 653.8L318.01 653.3L318.05 652.8L318.16 652.3L318.36 651.8L318.62 651.3L318.9 650.8L319.17 650.3L319.38 649.8L319.52 649.3L319.54 648.8L319.54 648.3L319.54 647.8L319.54 647.3L319.54 646.8L319.54 646.3L319.54 645.8L319.54 645.3L319.54 644.8L319.54 644.3L319.54 643.8L319.54 643.3L319.54 642.8L319.54 642.3L319.54 641.8L319.54 641.3L319.53 640.8L319.46 640.3L319.32 639.8L319.15 639.3L318.97 638.8L318.79 638.3L318.64 637.8L318.56 637.3L318.53 636.8L318.38 636.3L318.11 635.8L317.76 635.3L317.39 634.8L317.04 634.3L316.75 633.8L316.57 633.3L316.53 632.8L316.42 632.3L316.22 631.8L316 631.3L315.8 630.8L315.67 630.3L315.64 629.8L315.64 629.3L315.63 628.8L315.62 628.3L315.61 627.8L315.6 627.3L315.59 626.8L315.58 626.3L315.57 625.8L315.56 625.3L315.55 624.8L315.55 624.3L315.54 623.8L315.54 623.3Z" fill="#fff" stroke="#0a0a0a" stroke-width="1.95" stroke-linejoin="round"/>
<line x1="312.04" y1="646" x2="318.64" y2="646" stroke="#222" stroke-width="0.55" stroke-dasharray="1.6 0.9"/>
<line x1="312.68" y1="651" x2="318" y2="651" stroke="#333" stroke-width="0.45" stroke-dasharray="0.6 0.9"/>
<line x1="312.05" y1="641" x2="318.63" y2="641" stroke="#333" stroke-width="0.45" stroke-dasharray="0.6 0.9"/>
<text transform="translate(315.64 620.6) scale(1.13 1)" font-size="9" text-anchor="middle" fill="#111">b</text>
<path d="M330.8 628.7L330.8 629.2L330.79 629.7L330.77 630.2L330.75 630.7L330.73 631.2L330.71 631.7L330.69 632.2L330.67 632.7L330.66 633.2L330.65 633.7L330.64 634.2L330.53 634.7L330.35 635.2L330.14 635.7L329.95 636.2L329.82 636.7L329.78 637.2L329.59 637.7L329.27 638.2L328.9 638.7L328.56 639.2L328.34 639.7L328.29 640.2L328.18 640.7L328 641.2L327.78 641.7L327.56 642.2L327.39 642.7L327.3 643.2L327.39 643.7L327.69 644.2L328.09 644.7L328.48 645.2L328.75 645.7L328.83 646.2L329.08 646.7L329.45 647.2L329.74 647.7L329.79 648.2L329.68 648.7L329.5 649.2L329.28 649.7L329.06 650.2L328.89 650.7L328.8 651.2L328.86 651.7L329.06 652.2L329.33 652.7L329.59 653.2L329.77 653.7L329.81 654.2L329.92 654.7L330.1 655.2L330.31 655.7L330.5 656.2L330.63 656.7L330.65 657.2L330.65 657.7L330.65 658.2L330.65 658.7L330.66 659.2L330.66 659.7L330.67 660.2L330.67 660.7L330.67 661.2L330.68 661.7L330.69 662.2L330.69 662.7L330.7 663.2L330.7 663.7L330.71 664.2L330.71 664.7L330.72 665.2L330.72 665.7L330.73 666.2L330.73 666.7L330.74 667.2L330.74 667.7L330.74 668.2L330.75 668.7L330.75 669.2L330.75 669.7L330.75 670L331.25 670L331.25 669.7L331.25 669.2L331.25 668.7L331.26 668.2L331.26 667.7L331.26 667.2L331.27 666.7L331.27 666.2L331.28 665.7L331.28 665.2L331.29 664.7L331.29 664.2L331.3 663.7L331.3 663.2L331.31 662.7L331.31 662.2L331.32 661.7L331.33 661.2L331.33 660.7L331.33 660.2L331.34 659.7L331.34 659.2L331.35 658.7L331.35 658.2L331.35 657.7L331.35 657.2L331.37 656.7L331.5 656.2L331.69 655.7L331.9 655.2L332.08 654.7L332.19 654.2L332.23 653.7L332.41 653.2L332.67 652.7L332.94 652.2L333.14 651.7L333.2 651.2L333.11 650.7L332.94 650.2L332.72 649.7L332.5 649.2L332.32 648.7L332.21 648.2L332.26 647.7L332.55 647.2L332.92 646.7L333.17 646.2L333.25 645.7L333.52 645.2L333.91 644.7L334.31 644.2L334.61 643.7L334.7 643.2L334.61 642.7L334.44 642.2L334.22 641.7L334 641.2L333.82 640.7L333.71 640.2L333.66 639.7L333.44 639.2L333.1 638.7L332.73 638.2L332.41 637.7L332.22 637.2L332.18 636.7L332.05 636.2L331.86 635.7L331.65 635.2L331.47 634.7L331.36 634.2L331.35 633.7L331.34 633.2L331.33 632.7L331.31 632.2L331.29 631.7L331.27 631.2L331.25 630.7L331.23 630.2L331.21 629.7L331.2 629.2L331.2 628.7Z" fill="#fff" stroke="#0a0a0a" stroke-width="1.95" stroke-linejoin="round"/>
<line x1="328.99" y1="644.5" x2="333.01" y2="644.5" stroke="#222" stroke-width="0.55" stroke-dasharray="1.6 0.9"/>
<line x1="329.96" y1="650" x2="332.04" y2="650" stroke="#333" stroke-width="0.45" stroke-dasharray="0.6 0.9"/>
<line x1="328.9" y1="641" x2="333.1" y2="641" stroke="#333" stroke-width="0.45" stroke-dasharray="0.6 0.9"/>
<text transform="translate(331.3 626.1) scale(1.13 1)" font-size="9" text-anchor="middle" fill="#111">b</text>
<path d="M346.46 632.7L346.44 633.2L346.39 633.7L346.33 634.2L346.26 634.7L346.2 635.2L346.17 635.7L346.14 636.2L345.99 636.7L345.74 637.2L345.44 637.7L345.17 638.2L344.99 638.7L344.94 639.2L344.75 639.7L344.43 640.2L344.06 640.7L343.72 641.2L343.5 641.7L343.45 642.2L343.32 642.7L343.14 643.2L342.99 643.7L342.97 644.2L343.1 644.7L343.31 645.2L343.56 645.7L343.78 646.2L343.93 646.7L343.98 647.2L344.19 647.7L344.56 648.2L344.98 648.7L345.36 649.2L345.61 649.7L345.67 650.2L345.72 650.7L345.79 651.2L345.85 651.7L345.86 652.2L345.86 652.7L345.86 653.2L345.86 653.7L345.86 654.2L345.86 654.7L345.86 655.2L345.86 655.7L345.89 656.2L346.1 656.7L346.16 657L347.16 657L347.22 656.7L347.43 656.2L347.46 655.7L347.46 655.2L347.46 654.7L347.46 654.2L347.46 653.7L347.46 653.2L347.46 652.7L347.46 652.2L347.47 651.7L347.53 651.2L347.6 650.7L347.65 650.2L347.71 649.7L347.96 649.2L348.34 648.7L348.76 648.2L349.13 647.7L349.34 647.2L349.39 646.7L349.54 646.2L349.76 645.7L350.01 645.2L350.22 644.7L350.35 644.2L350.33 643.7L350.18 643.2L350 642.7L349.87 642.2L349.82 641.7L349.6 641.2L349.26 640.7L348.89 640.2L348.57 639.7L348.38 639.2L348.33 638.7L348.15 638.2L347.88 637.7L347.58 637.2L347.33 636.7L347.18 636.2L347.15 635.7L347.12 635.2L347.06 634.7L346.99 634.2L346.93 633.7L346.88 633.2L346.86 632.7Z" fill="#fff" stroke="#0a0a0a" stroke-width="1.95" stroke-linejoin="round"/>
<line x1="343.87" y1="644" x2="349.45" y2="644" stroke="#222" stroke-width="0.55" stroke-dasharray="1.6 0.9"/>
<line x1="345.09" y1="647.5" x2="348.23" y2="647.5" stroke="#333" stroke-width="0.45" stroke-dasharray="0.6 0.9"/>
<line x1="344.62" y1="641" x2="348.7" y2="641" stroke="#333" stroke-width="0.45" stroke-dasharray="0.6 0.9"/>
<text transform="translate(346.96 630.6) scale(1.13 1)" font-size="9" text-anchor="middle" fill="#111">b</text>
<path d="M361.32 626.7L361.21 627.2L360.97 627.7L360.73 628.2L360.62 628.7L360.7 629.2L360.9 629.7L361.12 630.2L361.29 630.7L361.29 631.2L360.98 631.7L360.54 632.2L360.19 632.7L360.1 633.2L359.9 633.7L359.59 634.2L359.29 634.7L359.13 635.2L359.17 635.7L359.33 636.2L359.54 636.7L359.75 637.2L359.89 637.7L359.9 638.2L359.67 638.7L359.29 639.2L358.88 639.7L358.56 640.2L358.42 640.7L358.57 641.2L358.9 641.7L359.29 642.2L359.56 642.7L359.64 643.2L359.89 643.7L360.31 644.2L360.79 644.7L361.23 645.2L361.52 645.7L361.58 646.2L361.68 646.7L361.83 647.2L361.95 647.7L361.97 648.2L361.97 648.7L361.97 649.2L361.97 649.7L361.98 650.2L361.98 650.7L361.98 651.2L361.98 651.7L361.99 652.2L361.99 652.7L361.99 653.2L362 653.7L362 654.2L362 654.7L362.01 655.2L362.01 655.7L362.01 656.2L362.02 656.7L362.02 657.2L362.02 657.7L362.02 658.2L362.02 658.7L362.02 658.7L362.62 658.7L362.62 658.7L362.62 658.2L362.62 657.7L362.62 657.2L362.62 656.7L362.63 656.2L362.63 655.7L362.63 655.2L362.64 654.7L362.64 654.2L362.64 653.7L362.65 653.2L362.65 652.7L362.65 652.2L362.66 651.7L362.66 651.2L362.66 650.7L362.66 650.2L362.67 649.7L362.67 649.2L362.67 648.7L362.67 648.2L362.69 647.7L362.81 647.2L362.96 646.7L363.06 646.2L363.12 645.7L363.41 645.2L363.85 644.7L364.33 644.2L364.75 643.7L365 643.2L365.08 642.7L365.35 642.2L365.74 641.7L366.07 641.2L366.22 640.7L366.08 640.2L365.76 639.7L365.35 639.2L364.97 638.7L364.74 638.2L364.75 637.7L364.89 637.2L365.1 636.7L365.31 636.2L365.47 635.7L365.51 635.2L365.35 634.7L365.05 634.2L364.74 633.7L364.54 633.2L364.45 632.7L364.1 632.2L363.66 631.7L363.35 631.2L363.35 630.7L363.52 630.2L363.74 629.7L363.94 629.2L364.02 628.7L363.91 628.2L363.67 627.7L363.43 627.2L363.32 626.7Z" fill="#fff" stroke="#0a0a0a" stroke-width="1.95" stroke-linejoin="round"/>
<line x1="360.57" y1="638.5" x2="364.07" y2="638.5" stroke="#222" stroke-width="0.55" stroke-dasharray="1.6 0.9"/>
<line x1="360.19" y1="642" x2="364.45" y2="642" stroke="#333" stroke-width="0.45" stroke-dasharray="0.6 0.9"/>
<line x1="360.49" y1="634" x2="364.15" y2="634" stroke="#333" stroke-width="0.45" stroke-dasharray="0.6 0.9"/>
<text transform="translate(362.62 624.6) scale(1.13 1)" font-size="9" text-anchor="middle" fill="#111">a</text>
<path d="M377.78 617.3L377.77 617.8L377.76 618.3L377.73 618.8L377.7 619.3L377.67 619.8L377.64 620.3L377.61 620.8L377.59 621.3L377.58 621.8L377.57 622.3L377.53 622.8L377.45 623.3L377.34 623.8L377.23 624.3L377.11 624.8L376.99 625.3L376.9 625.8L376.82 626.3L376.78 626.8L376.76 627.3L376.68 627.8L376.53 628.3L376.34 628.8L376.12 629.3L375.9 629.8L375.68 630.3L375.5 630.8L375.36 631.3L375.29 631.8L375.27 632.3L375.22 632.8L375.14 633.3L375.02 633.8L374.89 634.3L374.74 634.8L374.59 635.3L374.45 635.8L374.31 636.3L374.2 636.8L374.13 637.3L374.08 637.8L374.09 638.3L374.15 638.8L374.25 639.3L374.38 639.8L374.51 640.3L374.63 640.8L374.72 641.3L374.77 641.8L374.8 642.3L374.94 642.8L375.15 643.3L375.42 643.8L375.7 644.3L375.96 644.8L376.16 645.3L376.27 645.8L376.31 646.3L376.46 646.8L376.68 647.3L376.93 647.8L377.14 648.3L377.27 648.8L377.28 649.3L377.29 649.8L377.32 650.3L377.34 650.8L377.38 651.3L377.42 651.8L377.45 652.3L377.49 652.8L377.52 653.3L377.55 653.8L377.57 654.3L377.58 654.8L377.58 655.3L377.58 655.8L377.59 656.3L377.59 656.8L377.6 657.3L377.61 657.8L377.62 658.3L377.63 658.8L377.64 659.3L377.65 659.8L377.66 660.3L377.68 660.8L377.69 661.3L377.7 661.8L377.72 662.3L377.73 662.8L377.74 663.3L377.76 663.8L377.77 664.3L377.78 664.8L377.79 665.3L377.8 665.8L377.81 666.3L377.82 666.8L377.82 667.3L377.83 667.8L377.83 668.3L377.83 668.7L378.13 668.7L378.13 668.3L378.13 667.8L378.14 667.3L378.14 666.8L378.15 666.3L378.16 665.8L378.17 665.3L378.18 664.8L378.19 664.3L378.2 663.8L378.22 663.3L378.23 662.8L378.24 662.3L378.26 661.8L378.27 661.3L378.28 660.8L378.3 660.3L378.31 659.8L378.32 659.3L378.33 658.8L378.34 658.3L378.35 657.8L378.36 657.3L378.37 656.8L378.37 656.3L378.38 655.8L378.38 655.3L378.38 654.8L378.39 654.3L378.41 653.8L378.44 653.3L378.47 652.8L378.51 652.3L378.54 651.8L378.58 651.3L378.62 650.8L378.64 650.3L378.67 649.8L378.68 649.3L378.69 648.8L378.82 648.3L379.03 647.8L379.28 647.3L379.5 646.8L379.65 646.3L379.69 645.8L379.8 645.3L380 644.8L380.26 644.3L380.54 643.8L380.81 643.3L381.02 642.8L381.16 642.3L381.19 641.8L381.24 641.3L381.33 640.8L381.45 640.3L381.58 639.8L381.71 639.3L381.81 638.8L381.87 638.3L381.88 637.8L381.83 637.3L381.76 636.8L381.65 636.3L381.51 635.8L381.37 635.3L381.22 634.8L381.07 634.3L380.94 633.8L380.82 633.3L380.74 632.8L380.69 632.3L380.67 631.8L380.6 631.3L380.46 630.8L380.28 630.3L380.06 629.8L379.84 629.3L379.62 628.8L379.43 628.3L379.28 627.8L379.2 627.3L379.18 626.8L379.14 626.3L379.06 625.8L378.97 625.3L378.85 624.8L378.73 624.3L378.62 623.8L378.51 623.3L378.43 622.8L378.39 622.3L378.38 621.8L378.37 621.3L378.35 620.8L378.32 620.3L378.29 619.8L378.26 619.3L378.23 618.8L378.2 618.3L378.19 617.8L378.18 617.3Z" fill="#fff" stroke="#0a0a0a" stroke-width="1.95" stroke-linejoin="round"/>
<line x1="374.98" y1="638" x2="380.98" y2="638" stroke="#222" stroke-width="0.55" stroke-dasharray="1.6 0.9"/>
<line x1="375.84" y1="643" x2="380.12" y2="643" stroke="#333" stroke-width="0.45" stroke-dasharray="0.6 0.9"/>
<line x1="376.19" y1="632" x2="379.77" y2="632" stroke="#333" stroke-width="0.45" stroke-dasharray="0.6 0.9"/>
<text transform="translate(378.28 614.6) scale(1.13 1)" font-size="9" text-anchor="middle" fill="#111">a</text>
<line x1="438.4" y1="605.6" x2="438.4" y2="701.2" stroke="#0a0a0a" stroke-width="1.9"/>
<line x1="430.8" y1="700.5" x2="585.8" y2="700.5" stroke="#0a0a0a" stroke-width="1.7"/>
<line x1="430.8" y1="606.3" x2="438.4" y2="606.3" stroke="#0a0a0a" stroke-width="1.5"/>
<text x="428.6" y="609.6" font-size="9.3" font-weight="bold" text-anchor="end" fill="#111">50</text>
<line x1="430.8" y1="625.2" x2="438.4" y2="625.2" stroke="#0a0a0a" stroke-width="1.5"/>
<text x="428.6" y="628.5" font-size="9.3" font-weight="bold" text-anchor="end" fill="#111">40</text>
<line x1="430.8" y1="644" x2="438.4" y2="644" stroke="#0a0a0a" stroke-width="1.5"/>
<text x="428.6" y="647.3" font-size="9.3" font-weight="bold" text-anchor="end" fill="#111">30</text>
<line x1="430.8" y1="662.8" x2="438.4" y2="662.8" stroke="#0a0a0a" stroke-width="1.5"/>
<text x="428.6" y="666.1" font-size="9.3" font-weight="bold" text-anchor="end" fill="#111">20</text>
<line x1="430.8" y1="681.6" x2="438.4" y2="681.6" stroke="#0a0a0a" stroke-width="1.5"/>
<text x="428.6" y="684.9" font-size="9.3" font-weight="bold" text-anchor="end" fill="#111">10</text>
<text x="428.6" y="703.8" font-size="9.3" font-weight="bold" text-anchor="end" fill="#111">0</text>
<line x1="448.6" y1="700.5" x2="448.6" y2="706.5" stroke="#0a0a0a" stroke-width="1.5"/>
<line x1="464.24" y1="700.5" x2="464.24" y2="706.5" stroke="#0a0a0a" stroke-width="1.5"/>
<line x1="479.88" y1="700.5" x2="479.88" y2="706.5" stroke="#0a0a0a" stroke-width="1.5"/>
<line x1="495.52" y1="700.5" x2="495.52" y2="706.5" stroke="#0a0a0a" stroke-width="1.5"/>
<line x1="511.16" y1="700.5" x2="511.16" y2="706.5" stroke="#0a0a0a" stroke-width="1.5"/>
<line x1="526.8" y1="700.5" x2="526.8" y2="706.5" stroke="#0a0a0a" stroke-width="1.5"/>
<line x1="542.44" y1="700.5" x2="542.44" y2="706.5" stroke="#0a0a0a" stroke-width="1.5"/>
<line x1="558.08" y1="700.5" x2="558.08" y2="706.5" stroke="#0a0a0a" stroke-width="1.5"/>
<line x1="573.72" y1="700.5" x2="573.72" y2="706.5" stroke="#0a0a0a" stroke-width="1.5"/>
<text transform="translate(410 654.5) rotate(-90)" font-size="9.8" font-weight="bold" text-anchor="middle" fill="#111" font-family='"Liberation Serif", serif' style="stroke-width:0">1000-grain weight (g)</text>
<text transform="translate(450.8 715.3) scale(1 0.83) rotate(-45)" font-size="10.2" font-weight="bold" text-anchor="end" fill="#111" stroke="#111" stroke-width="0.2" xml:space="preserve">Hap I</text>
<text transform="translate(466.44 715.3) scale(1 0.83) rotate(-45)" font-size="10.2" font-weight="bold" text-anchor="end" fill="#111" stroke="#111" stroke-width="0.2" xml:space="preserve">Hap <tspan class="rn">Ⅱ</tspan></text>
<text transform="translate(482.08 715.3) scale(1 0.83) rotate(-45)" font-size="10.2" font-weight="bold" text-anchor="end" fill="#111" stroke="#111" stroke-width="0.2" xml:space="preserve">Hap <tspan class="rn">Ⅲ</tspan></text>
<text transform="translate(497.72 715.3) scale(1 0.83) rotate(-45)" font-size="10.2" font-weight="bold" text-anchor="end" fill="#111" stroke="#111" stroke-width="0.2" xml:space="preserve">Hap <tspan class="rn">Ⅳ</tspan></text>
<text transform="translate(513.36 715.3) scale(1 0.83) rotate(-45)" font-size="10.2" font-weight="bold" text-anchor="end" fill="#111" stroke="#111" stroke-width="0.2" xml:space="preserve">Hap V</text>
<text transform="translate(529 715.3) scale(1 0.83) rotate(-45)" font-size="10.2" font-weight="bold" text-anchor="end" fill="#111" stroke="#111" stroke-width="0.2" xml:space="preserve">Hap <tspan class="rn">Ⅵ</tspan></text>
<text transform="translate(544.64 715.3) scale(1 0.83) rotate(-45)" font-size="10.2" font-weight="bold" text-anchor="end" fill="#111" stroke="#111" stroke-width="0.2" xml:space="preserve">Hap <tspan class="rn">Ⅶ</tspan></text>
<text transform="translate(560.28 715.3) scale(1 0.83) rotate(-45)" font-size="10.2" font-weight="bold" text-anchor="end" fill="#111" stroke="#111" stroke-width="0.2" xml:space="preserve">Hap <tspan class="rn">Ⅷ</tspan></text>
<text transform="translate(575.92 715.3) scale(1 0.83) rotate(-45)" font-size="10.2" font-weight="bold" text-anchor="end" fill="#111" stroke="#111" stroke-width="0.2" xml:space="preserve">Hap <tspan class="rn">Ⅸ</tspan></text>
<path d="M448.3 632.7L448.3 633.2L448.29 633.7L448.27 634.2L448.25 634.7L448.23 635.2L448.21 635.7L448.19 636.2L448.17 636.7L448.16 637.2L448.15 637.7L448.15 638.2L448.13 638.7L448.11 639.2L448.07 639.7L448.03 640.2L447.98 640.7L447.94 641.2L447.9 641.7L447.87 642.2L447.85 642.7L447.85 643.2L447.8 643.7L447.71 644.2L447.6 644.7L447.46 645.2L447.32 645.7L447.18 646.2L447.06 646.7L446.97 647.2L446.91 647.7L446.89 648.2L446.76 648.7L446.55 649.2L446.3 649.7L446.08 650.2L445.93 650.7L445.88 651.2L445.69 651.7L445.37 652.2L445 652.7L444.66 653.2L444.44 653.7L444.42 654.2L444.61 654.7L444.93 655.2L445.3 655.7L445.64 656.2L445.86 656.7L445.92 657.2L446.08 657.7L446.36 658.2L446.68 658.7L446.97 659.2L447.16 659.7L447.21 660.2L447.31 660.7L447.48 661.2L447.68 661.7L447.86 662.2L447.98 662.7L448 663.2L448.02 663.7L448.05 664.2L448.08 664.7L448.1 665.2L448.1 665.3L449.1 665.3L449.1 665.2L449.12 664.7L449.15 664.2L449.18 663.7L449.2 663.2L449.22 662.7L449.34 662.2L449.52 661.7L449.72 661.2L449.89 660.7L449.99 660.2L450.04 659.7L450.23 659.2L450.52 658.7L450.84 658.2L451.12 657.7L451.28 657.2L451.34 656.7L451.56 656.2L451.9 655.7L452.27 655.2L452.59 654.7L452.78 654.2L452.76 653.7L452.54 653.2L452.2 652.7L451.83 652.2L451.51 651.7L451.32 651.2L451.27 650.7L451.12 650.2L450.9 649.7L450.65 649.2L450.44 648.7L450.31 648.2L450.29 647.7L450.23 647.2L450.14 646.7L450.02 646.2L449.88 645.7L449.74 645.2L449.6 644.7L449.49 644.2L449.4 643.7L449.35 643.2L449.35 642.7L449.33 642.2L449.3 641.7L449.26 641.2L449.22 640.7L449.17 640.2L449.13 639.7L449.09 639.2L449.07 638.7L449.05 638.2L449.05 637.7L449.04 637.2L449.03 636.7L449.01 636.2L448.99 635.7L448.97 635.2L448.95 634.7L448.93 634.2L448.91 633.7L448.9 633.2L448.9 632.7Z" fill="#fff" stroke="#0a0a0a" stroke-width="1.95" stroke-linejoin="round"/>
<line x1="445.34" y1="653.5" x2="451.86" y2="653.5" stroke="#222" stroke-width="0.55" stroke-dasharray="1.6 0.9"/>
<line x1="446.76" y1="656.5" x2="450.44" y2="656.5" stroke="#333" stroke-width="0.45" stroke-dasharray="0.6 0.9"/>
<line x1="446.98" y1="650" x2="450.22" y2="650" stroke="#333" stroke-width="0.45" stroke-dasharray="0.6 0.9"/>
<text transform="translate(448.9 628.6) scale(1.13 1)" font-size="9" text-anchor="middle" fill="#111">a</text>
<path d="M464.04 629.3L464.04 629.8L464.03 630.3L464.02 630.8L464.01 631.3L463.99 631.8L463.98 632.3L463.96 632.8L463.94 633.3L463.93 633.8L463.91 634.3L463.9 634.8L463.89 635.3L463.89 635.8L463.88 636.3L463.8 636.8L463.68 637.3L463.53 637.8L463.37 638.3L463.22 638.8L463.11 639.3L463.05 639.8L463.05 640.3L463.12 640.8L463.24 641.3L463.38 641.8L463.53 642.3L463.67 642.8L463.78 643.3L463.83 643.8L463.82 644.3L463.74 644.8L463.59 645.3L463.41 645.8L463.23 646.3L463.06 646.8L462.92 647.3L462.85 647.8L462.8 648.3L462.61 648.8L462.32 649.3L462 649.8L461.72 650.3L461.56 650.8L461.5 651.3L461.28 651.8L460.94 652.3L460.57 652.8L460.25 653.3L460.06 653.8L460.08 654.3L460.3 654.8L460.64 655.3L461.01 655.8L461.33 656.3L461.52 656.8L461.59 657.3L461.88 657.8L462.32 658.3L462.8 658.8L463.22 659.3L463.47 659.8L463.51 660.3L463.63 660.8L463.78 661.3L463.88 661.8L463.89 662.3L463.89 662.8L463.89 663.3L463.89 663.8L463.9 664.3L463.9 664.8L463.9 665.3L463.91 665.8L463.91 666.3L463.92 666.8L463.92 667.3L463.93 667.8L463.93 668.3L463.94 668.8L463.94 669.3L463.95 669.8L463.95 670.3L463.96 670.8L463.96 671.3L463.97 671.8L463.97 672.3L463.98 672.8L463.98 673.3L463.98 673.8L463.99 674.3L463.99 674.8L463.99 675.3L463.99 675.8L463.99 676L464.49 676L464.49 675.8L464.49 675.3L464.49 674.8L464.49 674.3L464.5 673.8L464.5 673.3L464.5 672.8L464.51 672.3L464.51 671.8L464.52 671.3L464.52 670.8L464.53 670.3L464.53 669.8L464.54 669.3L464.54 668.8L464.55 668.3L464.55 667.8L464.56 667.3L464.56 666.8L464.57 666.3L464.57 665.8L464.58 665.3L464.58 664.8L464.58 664.3L464.59 663.8L464.59 663.3L464.59 662.8L464.59 662.3L464.6 661.8L464.7 661.3L464.85 660.8L464.97 660.3L465.01 659.8L465.26 659.3L465.68 658.8L466.16 658.3L466.6 657.8L466.89 657.3L466.96 656.8L467.15 656.3L467.47 655.8L467.84 655.3L468.18 654.8L468.4 654.3L468.42 653.8L468.23 653.3L467.91 652.8L467.54 652.3L467.2 651.8L466.98 651.3L466.92 650.8L466.76 650.3L466.48 649.8L466.16 649.3L465.87 648.8L465.68 648.3L465.63 647.8L465.56 647.3L465.42 646.8L465.25 646.3L465.07 645.8L464.89 645.3L464.74 644.8L464.66 644.3L464.65 643.8L464.7 643.3L464.81 642.8L464.95 642.3L465.1 641.8L465.24 641.3L465.36 640.8L465.43 640.3L465.43 639.8L465.37 639.3L465.26 638.8L465.11 638.3L464.95 637.8L464.8 637.3L464.68 636.8L464.6 636.3L464.59 635.8L464.59 635.3L464.58 634.8L464.57 634.3L464.55 633.8L464.54 633.3L464.52 632.8L464.5 632.3L464.49 631.8L464.47 631.3L464.46 630.8L464.45 630.3L464.44 629.8L464.44 629.3Z" fill="#fff" stroke="#0a0a0a" stroke-width="1.95" stroke-linejoin="round"/>
<line x1="461.15" y1="653.5" x2="467.33" y2="653.5" stroke="#222" stroke-width="0.55" stroke-dasharray="1.6 0.9"/>
<line x1="462.42" y1="657" x2="466.06" y2="657" stroke="#333" stroke-width="0.45" stroke-dasharray="0.6 0.9"/>
<line x1="462.9" y1="650" x2="465.58" y2="650" stroke="#333" stroke-width="0.45" stroke-dasharray="0.6 0.9"/>
<text transform="translate(464.54 626.1) scale(1.13 1)" font-size="9" text-anchor="middle" fill="#111">ab</text>
<path d="M479.68 624.7L479.68 625.2L479.67 625.7L479.66 626.2L479.64 626.7L479.63 627.2L479.61 627.7L479.59 628.2L479.57 628.7L479.55 629.2L479.53 629.7L479.51 630.2L479.5 630.7L479.49 631.2L479.48 631.7L479.48 632.2L479.47 632.7L479.46 633.2L479.44 633.7L479.42 634.2L479.39 634.7L479.36 635.2L479.32 635.7L479.29 636.2L479.26 636.7L479.23 637.2L479.2 637.7L479.18 638.2L479.15 638.7L479.14 639.2L479.13 639.7L479.13 640.2L479.09 640.7L479.03 641.2L478.94 641.7L478.84 642.2L478.73 642.7L478.61 643.2L478.49 643.7L478.39 644.2L478.29 644.7L478.23 645.2L478.19 645.7L478.16 646.2L477.95 646.7L477.58 647.2L477.16 647.7L476.78 648.2L476.53 648.7L476.48 649.2L476.44 649.7L476.37 650.2L476.27 650.7L476.17 651.2L476.07 651.7L475.98 652.2L475.91 652.7L475.88 653.2L475.91 653.7L476 654.2L476.14 654.7L476.3 655.2L476.45 655.7L476.58 656.2L476.67 656.7L476.7 657.2L476.89 657.7L477.21 658.2L477.58 658.7L477.92 659.2L478.14 659.7L478.19 660.2L478.28 660.7L478.44 661.2L478.65 661.7L478.87 662.2L479.08 662.7L479.26 663.2L479.36 663.7L479.38 664.2L479.38 664.7L479.39 665.2L479.39 665.7L479.4 666.2L479.41 666.7L479.43 667.2L479.44 667.7L479.46 668.2L479.47 668.7L479.49 669.2L479.51 669.7L479.52 670.2L479.54 670.7L479.56 671.2L479.58 671.7L479.59 672.2L479.61 672.7L479.62 673.2L479.64 673.7L479.65 674.2L479.66 674.7L479.67 675.2L479.67 675.7L479.68 676.2L479.68 676.7L479.68 676.7L480.08 676.7L480.08 676.7L480.08 676.2L480.09 675.7L480.09 675.2L480.1 674.7L480.11 674.2L480.12 673.7L480.14 673.2L480.15 672.7L480.17 672.2L480.18 671.7L480.2 671.2L480.22 670.7L480.24 670.2L480.25 669.7L480.27 669.2L480.29 668.7L480.3 668.2L480.32 667.7L480.33 667.2L480.35 666.7L480.36 666.2L480.37 665.7L480.37 665.2L480.38 664.7L480.38 664.2L480.4 663.7L480.5 663.2L480.68 662.7L480.89 662.2L481.11 661.7L481.32 661.2L481.48 660.7L481.57 660.2L481.62 659.7L481.84 659.2L482.18 658.7L482.55 658.2L482.87 657.7L483.06 657.2L483.09 656.7L483.18 656.2L483.31 655.7L483.46 655.2L483.62 654.7L483.76 654.2L483.85 653.7L483.88 653.2L483.85 652.7L483.78 652.2L483.69 651.7L483.59 651.2L483.49 650.7L483.39 650.2L483.32 649.7L483.28 649.2L483.23 648.7L482.98 648.2L482.6 647.7L482.18 647.2L481.81 646.7L481.6 646.2L481.57 645.7L481.53 645.2L481.47 644.7L481.37 644.2L481.27 643.7L481.15 643.2L481.03 642.7L480.92 642.2L480.82 641.7L480.73 641.2L480.67 640.7L480.63 640.2L480.63 639.7L480.62 639.2L480.61 638.7L480.58 638.2L480.56 637.7L480.53 637.2L480.5 636.7L480.47 636.2L480.44 635.7L480.4 635.2L480.37 634.7L480.34 634.2L480.32 633.7L480.3 633.2L480.29 632.7L480.28 632.2L480.28 631.7L480.27 631.2L480.26 630.7L480.25 630.2L480.23 629.7L480.21 629.2L480.19 628.7L480.17 628.2L480.15 627.7L480.13 627.2L480.12 626.7L480.1 626.2L480.09 625.7L480.08 625.2L480.08 624.7Z" fill="#fff" stroke="#0a0a0a" stroke-width="1.95" stroke-linejoin="round"/>
<line x1="476.78" y1="653" x2="482.98" y2="653" stroke="#222" stroke-width="0.55" stroke-dasharray="1.6 0.9"/>
<line x1="477.6" y1="657" x2="482.16" y2="657" stroke="#333" stroke-width="0.45" stroke-dasharray="0.6 0.9"/>
<line x1="477.38" y1="649" x2="482.38" y2="649" stroke="#333" stroke-width="0.45" stroke-dasharray="0.6 0.9"/>
<text transform="translate(480.18 622.1) scale(1.13 1)" font-size="9" text-anchor="middle" fill="#111">ab</text>
<path d="M495.17 634L495.17 634.5L495.16 635L495.15 635.5L495.13 636L495.11 636.5L495.1 637L495.08 637.5L495.06 638L495.04 638.5L495.03 639L495.02 639.5L495.02 640L495 640.5L494.95 641L494.87 641.5L494.77 642L494.67 642.5L494.57 643L494.47 643.5L494.39 644L494.34 644.5L494.32 645L494.29 645.5L494.2 646L494.06 646.5L493.9 647L493.72 647.5L493.54 648L493.38 648.5L493.24 649L493.15 649.5L493.12 650L493.08 650.5L492.96 651L492.79 651.5L492.58 652L492.34 652.5L492.1 653L491.88 653.5L491.68 654L491.52 654.5L491.44 655L491.43 655.5L491.57 656L491.8 656.5L492.04 657L492.24 657.5L492.32 658L492.38 658.5L492.55 659L492.79 659.5L493.07 660L493.35 660.5L493.59 661L493.76 661.5L493.82 662L493.87 662.5L494.02 663L494.22 663.5L494.45 664L494.67 664.5L494.87 665L495.02 665.5L495.07 666L495.07 666.5L495.08 667L495.08 667.5L495.09 668L495.1 668.5L495.12 669L495.13 669.5L495.15 670L495.16 670.5L495.17 671L495.19 671.5L495.2 672L495.21 672.5L495.21 673L495.22 673.5L495.22 674L495.22 674L495.82 674L495.82 674L495.82 673.5L495.83 673L495.83 672.5L495.84 672L495.85 671.5L495.87 671L495.88 670.5L495.9 670L495.91 669.5L495.92 669L495.94 668.5L495.95 668L495.96 667.5L495.96 667L495.97 666.5L495.97 666L496.02 665.5L496.17 665L496.37 664.5L496.6 664L496.82 663.5L497.02 663L497.17 662.5L497.22 662L497.28 661.5L497.45 661L497.69 660.5L497.97 660L498.25 659.5L498.49 659L498.66 658.5L498.72 658L498.8 657.5L499 657L499.24 656.5L499.47 656L499.61 655.5L499.6 655L499.52 654.5L499.36 654L499.16 653.5L498.94 653L498.7 652.5L498.46 652L498.25 651.5L498.08 651L497.96 650.5L497.92 650L497.89 649.5L497.8 649L497.66 648.5L497.5 648L497.32 647.5L497.14 647L496.98 646.5L496.84 646L496.75 645.5L496.72 645L496.7 644.5L496.65 644L496.57 643.5L496.47 643L496.37 642.5L496.27 642L496.17 641.5L496.09 641L496.04 640.5L496.02 640L496.02 639.5L496.01 639L496 638.5L495.98 638L495.96 637.5L495.95 637L495.93 636.5L495.91 636L495.89 635.5L495.88 635L495.87 634.5L495.87 634Z" fill="#fff" stroke="#0a0a0a" stroke-width="1.95" stroke-linejoin="round"/>
<line x1="492.34" y1="655" x2="498.7" y2="655" stroke="#222" stroke-width="0.55" stroke-dasharray="1.6 0.9"/>
<line x1="493.45" y1="659" x2="497.59" y2="659" stroke="#333" stroke-width="0.45" stroke-dasharray="0.6 0.9"/>
<line x1="493.86" y1="651" x2="497.18" y2="651" stroke="#333" stroke-width="0.45" stroke-dasharray="0.6 0.9"/>
<text transform="translate(495.82 629.6) scale(1.13 1)" font-size="9" text-anchor="middle" fill="#111">ab</text>
<path d="M511.01 628.3L511.01 628.8L511 629.3L511 629.8L510.99 630.3L510.98 630.8L510.96 631.3L510.95 631.8L510.94 632.3L510.92 632.8L510.91 633.3L510.89 633.8L510.88 634.3L510.86 634.8L510.85 635.3L510.84 635.8L510.83 636.3L510.82 636.8L510.81 637.3L510.81 637.8L510.81 638.3L510.79 638.8L510.76 639.3L510.72 639.8L510.68 640.3L510.63 640.8L510.58 641.3L510.53 641.8L510.49 642.3L510.45 642.8L510.43 643.3L510.41 643.8L510.39 644.3L510.26 644.8L510.05 645.3L509.79 645.8L509.52 646.3L509.27 646.8L509.08 647.3L508.97 647.8L508.95 648.3L508.88 648.8L508.76 649.3L508.6 649.8L508.41 650.3L508.2 650.8L507.98 651.3L507.76 651.8L507.55 652.3L507.35 652.8L507.19 653.3L507.06 653.8L506.98 654.3L506.96 654.8L507.09 655.3L507.35 655.8L507.68 656.3L508.01 656.8L508.29 657.3L508.44 657.8L508.49 658.3L508.64 658.8L508.88 659.3L509.18 659.8L509.5 660.3L509.79 660.8L510.02 661.3L510.15 661.8L510.18 662.3L510.27 662.8L510.42 663.3L510.58 663.8L510.72 664.3L510.8 664.8L510.81 665.3L510.81 665.8L510.81 666.3L510.82 666.8L510.82 667.3L510.83 667.8L510.83 668.3L510.84 668.8L510.85 669.3L510.85 669.8L510.86 670.3L510.87 670.8L510.88 671.3L510.88 671.8L510.89 672.3L510.9 672.8L510.9 673.3L510.9 673.8L510.91 674.3L510.91 674.8L510.91 675.3L510.91 675.3L511.41 675.3L511.41 675.3L511.41 674.8L511.41 674.3L511.42 673.8L511.42 673.3L511.42 672.8L511.43 672.3L511.44 671.8L511.44 671.3L511.45 670.8L511.46 670.3L511.47 669.8L511.47 669.3L511.48 668.8L511.49 668.3L511.49 667.8L511.5 667.3L511.5 666.8L511.51 666.3L511.51 665.8L511.51 665.3L511.52 664.8L511.6 664.3L511.74 663.8L511.9 663.3L512.05 662.8L512.14 662.3L512.17 661.8L512.3 661.3L512.53 660.8L512.82 660.3L513.14 659.8L513.44 659.3L513.68 658.8L513.83 658.3L513.88 657.8L514.03 657.3L514.31 656.8L514.64 656.3L514.97 655.8L515.23 655.3L515.36 654.8L515.34 654.3L515.26 653.8L515.13 653.3L514.97 652.8L514.77 652.3L514.56 651.8L514.34 651.3L514.12 650.8L513.91 650.3L513.72 649.8L513.56 649.3L513.44 648.8L513.37 648.3L513.35 647.8L513.24 647.3L513.05 646.8L512.8 646.3L512.53 645.8L512.27 645.3L512.06 644.8L511.93 644.3L511.91 643.8L511.89 643.3L511.87 642.8L511.83 642.3L511.79 641.8L511.74 641.3L511.69 640.8L511.64 640.3L511.6 639.8L511.56 639.3L511.53 638.8L511.51 638.3L511.51 637.8L511.51 637.3L511.5 636.8L511.49 636.3L511.48 635.8L511.47 635.3L511.46 634.8L511.44 634.3L511.43 633.8L511.41 633.3L511.4 632.8L511.38 632.3L511.37 631.8L511.36 631.3L511.34 630.8L511.33 630.3L511.32 629.8L511.32 629.3L511.31 628.8L511.31 628.3Z" fill="#fff" stroke="#0a0a0a" stroke-width="1.95" stroke-linejoin="round"/>
<line x1="507.88" y1="654.5" x2="514.44" y2="654.5" stroke="#222" stroke-width="0.55" stroke-dasharray="1.6 0.9"/>
<line x1="509.34" y1="658" x2="512.98" y2="658" stroke="#333" stroke-width="0.45" stroke-dasharray="0.6 0.9"/>
<line x1="509.1" y1="651" x2="513.22" y2="651" stroke="#333" stroke-width="0.45" stroke-dasharray="0.6 0.9"/>
<text transform="translate(511.46 625.6) scale(1.13 1)" font-size="9" text-anchor="middle" fill="#111">b</text>
<path d="M526.45 631.3L526.45 631.8L526.44 632.3L526.43 632.8L526.42 633.3L526.4 633.8L526.39 634.3L526.37 634.8L526.35 635.3L526.34 635.8L526.32 636.3L526.31 636.8L526.3 637.3L526.3 637.8L526.29 638.3L526.25 638.8L526.18 639.3L526.09 639.8L525.99 640.3L525.89 640.8L525.79 641.3L525.7 641.8L525.64 642.3L525.6 642.8L525.59 643.3L525.53 643.8L525.43 644.3L525.3 644.8L525.16 645.3L525.01 645.8L524.87 646.3L524.75 646.8L524.65 647.3L524.6 647.8L524.58 648.3L524.48 648.8L524.3 649.3L524.06 649.8L523.8 650.3L523.52 650.8L523.24 651.3L522.99 651.8L522.79 652.3L522.65 652.8L522.6 653.3L522.69 653.8L522.91 654.3L523.18 654.8L523.43 655.3L523.58 655.8L523.63 656.3L523.79 656.8L524.05 657.3L524.37 657.8L524.7 658.3L525.01 658.8L525.25 659.3L525.39 659.8L525.42 660.3L525.5 660.8L525.64 661.3L525.8 661.8L525.98 662.3L526.14 662.8L526.27 663.3L526.34 663.8L526.35 664.3L526.35 664.8L526.36 665.3L526.37 665.8L526.37 666.3L526.38 666.8L526.39 667.3L526.4 667.8L526.41 668.3L526.42 668.8L526.43 669.3L526.44 669.8L526.44 670.3L526.45 670.8L526.45 671.3L526.45 671.3L527.15 671.3L527.15 671.3L527.15 670.8L527.16 670.3L527.16 669.8L527.17 669.3L527.18 668.8L527.19 668.3L527.2 667.8L527.21 667.3L527.22 666.8L527.23 666.3L527.23 665.8L527.24 665.3L527.25 664.8L527.25 664.3L527.26 663.8L527.33 663.3L527.46 662.8L527.62 662.3L527.8 661.8L527.96 661.3L528.1 660.8L528.18 660.3L528.21 659.8L528.35 659.3L528.59 658.8L528.9 658.3L529.23 657.8L529.55 657.3L529.81 656.8L529.97 656.3L530.02 655.8L530.17 655.3L530.42 654.8L530.69 654.3L530.91 653.8L531 653.3L530.95 652.8L530.81 652.3L530.61 651.8L530.36 651.3L530.08 650.8L529.8 650.3L529.54 649.8L529.3 649.3L529.12 648.8L529.02 648.3L529 647.8L528.95 647.3L528.85 646.8L528.73 646.3L528.59 645.8L528.44 645.3L528.3 644.8L528.17 644.3L528.07 643.8L528.01 643.3L528 642.8L527.96 642.3L527.9 641.8L527.81 641.3L527.71 640.8L527.61 640.3L527.51 639.8L527.42 639.3L527.35 638.8L527.31 638.3L527.3 637.8L527.3 637.3L527.29 636.8L527.28 636.3L527.26 635.8L527.25 635.3L527.23 634.8L527.21 634.3L527.2 633.8L527.18 633.3L527.17 632.8L527.16 632.3L527.15 631.8L527.15 631.3Z" fill="#fff" stroke="#0a0a0a" stroke-width="1.95" stroke-linejoin="round"/>
<line x1="523.5" y1="653.5" x2="530.1" y2="653.5" stroke="#222" stroke-width="0.55" stroke-dasharray="1.6 0.9"/>
<line x1="524.69" y1="657" x2="528.91" y2="657" stroke="#333" stroke-width="0.45" stroke-dasharray="0.6 0.9"/>
<line x1="524.96" y1="650" x2="528.64" y2="650" stroke="#333" stroke-width="0.45" stroke-dasharray="0.6 0.9"/>
<text transform="translate(527.1 629.1) scale(1.13 1)" font-size="9" text-anchor="middle" fill="#111">ab</text>
<path d="M541.94 638.7L541.86 639.2L541.72 639.7L541.7 640.2L541.76 640.7L541.85 641.2L541.92 641.7L541.94 642.2L541.93 642.7L541.92 643.2L541.9 643.7L541.88 644.2L541.86 644.7L541.85 645.2L541.84 645.7L541.83 646.2L541.73 646.7L541.54 647.2L541.3 647.7L541.04 648.2L540.79 648.7L540.59 649.2L540.46 649.7L540.43 650.2L540.33 650.7L540.14 651.2L539.9 651.7L539.64 652.2L539.39 652.7L539.19 653.2L539.06 653.7L539.03 654.2L538.95 654.7L538.8 655.2L538.62 655.7L538.45 656.2L538.31 656.7L538.24 657.2L538.3 657.7L538.5 658.2L538.77 658.7L539.03 659.2L539.21 659.7L539.25 660.2L539.36 660.7L539.56 661.2L539.82 661.7L540.1 662.2L540.37 662.7L540.58 663.2L540.72 663.7L540.76 664.2L540.91 664.7L541.16 665.2L541.46 665.7L541.73 666.2L541.91 666.7L541.94 667.2L541.95 667.7L541.95 668.2L541.97 668.7L541.98 669.2L542 669.7L542.02 670.2L542.04 670.7L542.07 671.2L542.09 671.7L542.11 672.2L542.13 672.7L542.15 673.2L542.17 673.7L542.18 674.2L542.19 674.7L542.19 675.2L542.19 675.3L542.69 675.3L542.69 675.2L542.69 674.7L542.7 674.2L542.71 673.7L542.73 673.2L542.75 672.7L542.77 672.2L542.79 671.7L542.81 671.2L542.84 670.7L542.86 670.2L542.88 669.7L542.9 669.2L542.91 668.7L542.93 668.2L542.93 667.7L542.94 667.2L542.97 666.7L543.15 666.2L543.42 665.7L543.72 665.2L543.97 664.7L544.12 664.2L544.16 663.7L544.3 663.2L544.51 662.7L544.78 662.2L545.06 661.7L545.32 661.2L545.52 660.7L545.63 660.2L545.67 659.7L545.85 659.2L546.11 658.7L546.38 658.2L546.58 657.7L546.64 657.2L546.57 656.7L546.43 656.2L546.26 655.7L546.08 655.2L545.93 654.7L545.85 654.2L545.82 653.7L545.69 653.2L545.49 652.7L545.24 652.2L544.98 651.7L544.74 651.2L544.55 650.7L544.45 650.2L544.42 649.7L544.29 649.2L544.09 648.7L543.84 648.2L543.58 647.7L543.34 647.2L543.15 646.7L543.05 646.2L543.04 645.7L543.03 645.2L543.02 644.7L543 644.2L542.98 643.7L542.96 643.2L542.95 642.7L542.94 642.2L542.96 641.7L543.03 641.2L543.12 640.7L543.18 640.2L543.16 639.7L543.02 639.2L542.94 638.7Z" fill="#fff" stroke="#0a0a0a" stroke-width="1.95" stroke-linejoin="round"/>
<line x1="539.14" y1="657" x2="545.74" y2="657" stroke="#222" stroke-width="0.55" stroke-dasharray="1.6 0.9"/>
<line x1="540.26" y1="660.5" x2="544.62" y2="660.5" stroke="#333" stroke-width="0.45" stroke-dasharray="0.6 0.9"/>
<line x1="540.09" y1="653" x2="544.79" y2="653" stroke="#333" stroke-width="0.45" stroke-dasharray="0.6 0.9"/>
<text transform="translate(542.74 635.6) scale(1.13 1)" font-size="9" text-anchor="middle" fill="#111">b</text>
<path d="M557.58 632.7L557.58 633.2L557.57 633.7L557.57 634.2L557.56 634.7L557.55 635.2L557.54 635.7L557.53 636.2L557.52 636.7L557.51 637.2L557.5 637.7L557.5 638.2L557.49 638.7L557.48 639.2L557.48 639.7L557.47 640.2L557.33 640.7L557.09 641.2L556.82 641.7L556.57 642.2L556.41 642.7L556.37 643.2L556.22 643.7L555.95 644.2L555.6 644.7L555.23 645.2L554.88 645.7L554.59 646.2L554.41 646.7L554.38 647.2L554.34 647.7L554.28 648.2L554.2 648.7L554.12 649.2L554.05 649.7L554 650.2L553.98 650.7L554.01 651.2L554.08 651.7L554.18 652.2L554.29 652.7L554.41 653.2L554.53 653.7L554.62 654.2L554.67 654.7L554.68 655.2L554.66 655.7L554.62 656.2L554.56 656.7L554.51 657.2L554.45 657.7L554.41 658.2L554.38 658.7L554.39 659.2L554.46 659.7L554.6 660.2L554.77 660.7L554.95 661.2L555.13 661.7L555.28 662.2L555.36 662.7L555.38 663.2L555.42 663.7L555.49 664.2L555.56 664.7L555.63 665.2L555.67 665.7L555.69 666.2L555.81 666.7L556.01 667.2L556.21 667.7L556.35 668.2L556.44 668.7L556.92 669.2L557.46 669.7L557.58 670L558.58 670L558.7 669.7L559.24 669.2L559.72 668.7L559.81 668.2L559.95 667.7L560.15 667.2L560.35 666.7L560.47 666.2L560.49 665.7L560.53 665.2L560.6 664.7L560.67 664.2L560.74 663.7L560.78 663.2L560.8 662.7L560.88 662.2L561.03 661.7L561.21 661.2L561.39 660.7L561.56 660.2L561.7 659.7L561.77 659.2L561.78 658.7L561.75 658.2L561.71 657.7L561.65 657.2L561.6 656.7L561.54 656.2L561.5 655.7L561.48 655.2L561.49 654.7L561.54 654.2L561.63 653.7L561.75 653.2L561.87 652.7L561.98 652.2L562.08 651.7L562.15 651.2L562.18 650.7L562.16 650.2L562.11 649.7L562.04 649.2L561.96 648.7L561.88 648.2L561.82 647.7L561.78 647.2L561.75 646.7L561.57 646.2L561.28 645.7L560.93 645.2L560.56 644.7L560.21 644.2L559.94 643.7L559.79 643.2L559.75 642.7L559.59 642.2L559.34 641.7L559.07 641.2L558.83 640.7L558.69 640.2L558.68 639.7L558.68 639.2L558.67 638.7L558.66 638.2L558.66 637.7L558.65 637.2L558.64 636.7L558.63 636.2L558.62 635.7L558.61 635.2L558.6 634.7L558.59 634.2L558.59 633.7L558.58 633.2L558.58 632.7Z" fill="#fff" stroke="#0a0a0a" stroke-width="1.95" stroke-linejoin="round"/>
<line x1="555.52" y1="654" x2="560.64" y2="654" stroke="#222" stroke-width="0.55" stroke-dasharray="1.6 0.9"/>
<line x1="556.18" y1="662" x2="559.98" y2="662" stroke="#333" stroke-width="0.45" stroke-dasharray="0.6 0.9"/>
<line x1="555.02" y1="649" x2="561.14" y2="649" stroke="#333" stroke-width="0.45" stroke-dasharray="0.6 0.9"/>
<text transform="translate(558.38 630.1) scale(1.13 1)" font-size="9" text-anchor="middle" fill="#111">ab</text>
<path d="M573.52 620L573.52 620.5L573.51 621L573.51 621.5L573.5 622L573.49 622.5L573.48 623L573.46 623.5L573.45 624L573.43 624.5L573.42 625L573.41 625.5L573.39 626L573.38 626.5L573.36 627L573.35 627.5L573.34 628L573.33 628.5L573.33 629L573.32 629.5L573.32 630L573.31 630.5L573.29 631L573.26 631.5L573.23 632L573.18 632.5L573.13 633L573.08 633.5L573.02 634L572.96 634.5L572.91 635L572.86 635.5L572.81 636L572.78 636.5L572.75 637L572.73 637.5L572.72 638L572.69 638.5L572.6 639L572.46 639.5L572.3 640L572.12 640.5L571.94 641L571.78 641.5L571.64 642L571.55 642.5L571.52 643L571.51 643.5L571.47 644L571.43 644.5L571.37 645L571.31 645.5L571.27 646L571.23 646.5L571.22 647L571.16 647.5L571.01 648L570.8 648.5L570.55 649L570.29 649.5L570.05 650L569.86 650.5L569.74 651L569.74 651.5L569.94 652L570.26 652.5L570.62 653L570.9 653.5L571.02 654L571.06 654.5L571.18 655L571.34 655.5L571.52 656L571.7 656.5L571.86 657L571.98 657.5L572.02 658L572.05 658.5L572.12 659L572.23 659.5L572.35 660L572.5 660.5L572.64 661L572.76 661.5L572.87 662L572.94 662.5L572.97 663L572.99 663.5L573.02 664L573.08 664.5L573.14 665L573.21 665.5L573.27 666L573.3 666.5L573.32 667L573.32 667.5L573.32 668L573.32 668.5L573.32 669L573.32 669.5L573.32 670L573.32 670.5L573.32 671L573.32 671.5L573.32 672L573.32 672.5L573.32 673L573.32 673.5L573.32 674L573.32 674.5L573.32 675L573.32 675.5L573.32 676L573.32 676.5L573.32 677L573.32 677.3L574.12 677.3L574.12 677L574.12 676.5L574.12 676L574.12 675.5L574.12 675L574.12 674.5L574.12 674L574.12 673.5L574.12 673L574.12 672.5L574.12 672L574.12 671.5L574.12 671L574.12 670.5L574.12 670L574.12 669.5L574.12 669L574.12 668.5L574.12 668L574.12 667.5L574.12 667L574.14 666.5L574.17 666L574.23 665.5L574.3 665L574.36 664.5L574.42 664L574.45 663.5L574.47 663L574.5 662.5L574.57 662L574.68 661.5L574.8 661L574.95 660.5L575.09 660L575.21 659.5L575.32 659L575.39 658.5L575.42 658L575.46 657.5L575.58 657L575.74 656.5L575.92 656L576.1 655.5L576.26 655L576.38 654.5L576.42 654L576.54 653.5L576.82 653L577.18 652.5L577.5 652L577.7 651.5L577.7 651L577.58 650.5L577.39 650L577.15 649.5L576.89 649L576.64 648.5L576.43 648L576.28 647.5L576.22 647L576.21 646.5L576.17 646L576.13 645.5L576.07 645L576.01 644.5L575.97 644L575.93 643.5L575.92 643L575.89 642.5L575.8 642L575.66 641.5L575.5 641L575.32 640.5L575.14 640L574.98 639.5L574.84 639L574.75 638.5L574.72 638L574.71 637.5L574.69 637L574.66 636.5L574.63 636L574.58 635.5L574.53 635L574.48 634.5L574.42 634L574.36 633.5L574.31 633L574.26 632.5L574.21 632L574.18 631.5L574.15 631L574.13 630.5L574.12 630L574.12 629.5L574.11 629L574.11 628.5L574.1 628L574.09 627.5L574.08 627L574.06 626.5L574.05 626L574.03 625.5L574.02 625L574.01 624.5L573.99 624L573.98 623.5L573.96 623L573.95 622.5L573.94 622L573.93 621.5L573.93 621L573.92 620.5L573.92 620Z" fill="#fff" stroke="#0a0a0a" stroke-width="1.95" stroke-linejoin="round"/>
<line x1="570.64" y1="651.5" x2="576.8" y2="651.5" stroke="#222" stroke-width="0.55" stroke-dasharray="1.6 0.9"/>
<line x1="572.42" y1="656" x2="575.02" y2="656" stroke="#333" stroke-width="0.45" stroke-dasharray="0.6 0.9"/>
<line x1="572.17" y1="646" x2="575.27" y2="646" stroke="#333" stroke-width="0.45" stroke-dasharray="0.6 0.9"/>
<text transform="translate(574.02 617.6) scale(1.13 1)" font-size="9" text-anchor="middle" fill="#111">a</text>
</g>
<rect x="596.3" y="0" width="6.7" height="750" fill="#fdfdfd"/>
<line x1="596.6" y1="0" x2="596.6" y2="750" stroke="#ececec" stroke-width="0.8"/>
</svg>
</body>
</html>
